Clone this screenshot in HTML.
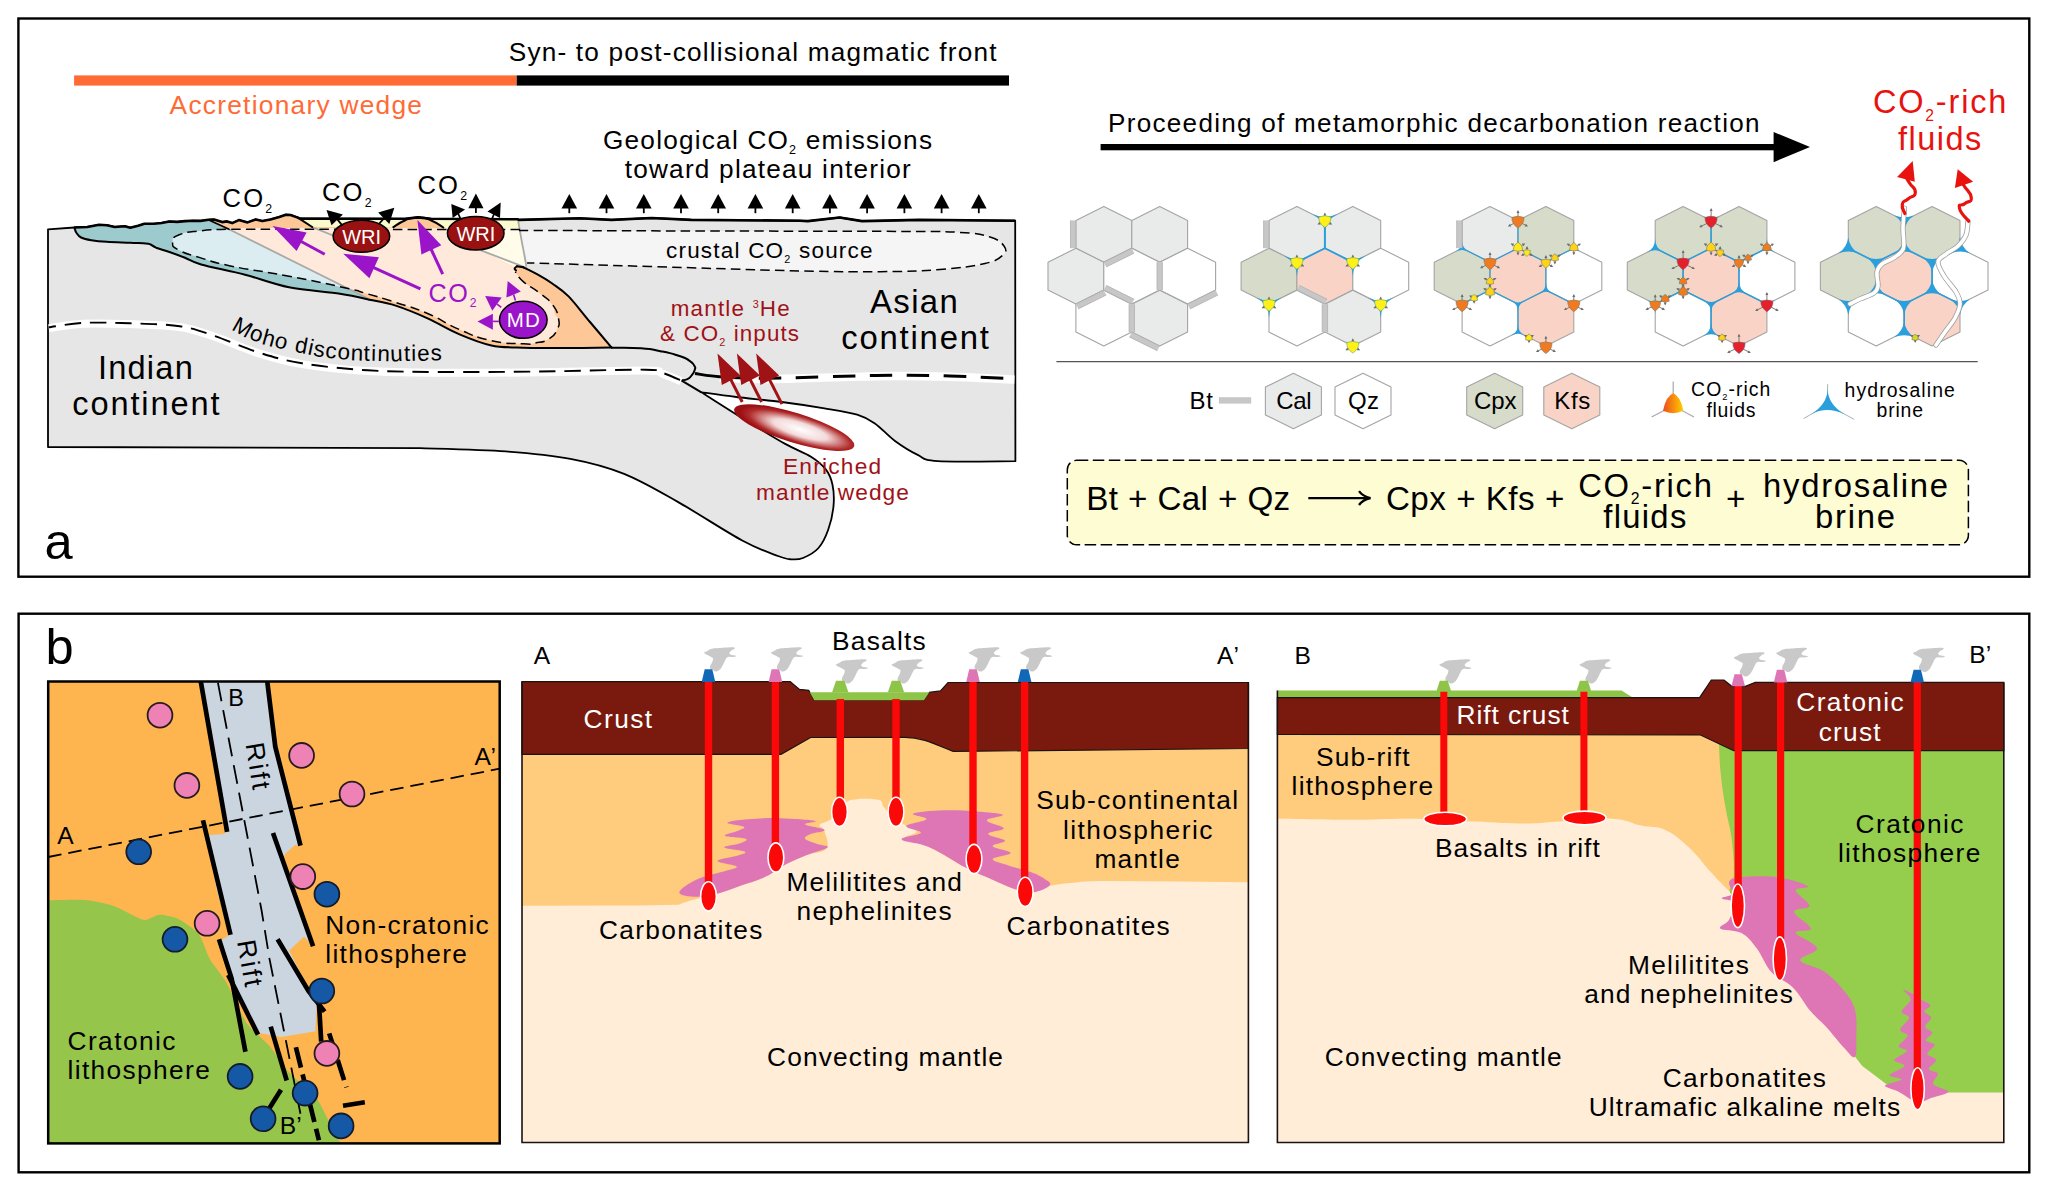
<!DOCTYPE html>
<html lang="en"><head><meta charset="utf-8"><title>Figure</title>
<style>
html,body{margin:0;padding:0;background:#fff;}
svg{display:block;}
text{font-family:"Liberation Sans",sans-serif;}
</style></head><body>
<svg width="2048" height="1191" viewBox="0 0 2048 1191">
<defs>
<radialGradient id="gw" cx="0.55" cy="0.5" r="0.5"><stop offset="0" stop-color="#fff"/><stop offset="0.45" stop-color="#f3dada"/><stop offset="0.85" stop-color="#b02a2a"/><stop offset="1" stop-color="#9c1014"/></radialGradient>
<linearGradient id="gf" x1="0" y1="0" x2="1" y2="0"><stop offset="0" stop-color="#ee4a1c"/><stop offset="1" stop-color="#ffcf00"/></linearGradient>
</defs>
<rect x="0" y="0" width="2048" height="1191" fill="#fff"/>
<g id="panelA">
<rect x="18.4" y="18.5" width="2010.9" height="558.2" fill="#fff" stroke="#000" stroke-width="2.4"/>
<rect x="74.1" y="75.4" width="442.6" height="10.2" fill="#ff6a35"/>
<rect x="516.7" y="75.4" width="492.3" height="10.2" fill="#000"/>
<text x="508.8" y="60.5" font-size="26.2" fill="#000" textLength="487.7" lengthAdjust="spacing">Syn- to post-collisional magmatic front</text>
<text x="169.6" y="114.3" font-size="26.3" fill="#ff6a35" textLength="252.4" lengthAdjust="spacing">Accretionary wedge</text>
<text x="603" y="148.6" font-size="26.2" fill="#000" textLength="329" lengthAdjust="spacing">Geological CO<tspan font-size="12.6" dy="5.8">2</tspan><tspan dy="-5.8"> emissions</tspan></text>
<text x="624.7" y="177.8" font-size="26.2" fill="#000" textLength="286" lengthAdjust="spacing">toward plateau interior</text>
<path d="M48 229.3 L74.4 227.5 L87.3 227 L99.1 224.8 L106.9 225.2 L114.7 227 L124.8 226.2 L130.3 227.7 L138.1 225.8 L144.4 223.8 L153.8 223.8 L161.6 223 L169.4 221.5 L177.2 221.9 L185 221.1 L192.8 220.7 L200.6 220.9 L208.4 219.8 L214 219.5 L222.1 222.1 L227 221.4 L232.2 223.1 L238.9 220.1 L247.6 222.4 L255.7 219.4 L262.4 221.1 L270.5 219.4 L279.2 217 L285.9 214.7 L290.6 215 L297.8 217.6 L300.3 218.6 L405 218.8 L418 217.4 L431 218.8 L517.9 219.3 L519 219.9 L579.7 218.3 L611.6 219.9 L651.5 218 L691.4 219.9 L800 220.7 L807.8 221.1 L839.7 217.5 L862 221.1 L919.5 219.9 L1015.2 220.7 L1015.4 461.2 C1002.5 461.2 954.1 462.2 937.8 461.2 C921.5 460.1 924.8 458.3 917.7 454.9 C910.6 451.5 902.1 446.2 895 441 C887.9 435.8 881.2 427.8 874.9 423.4 C868.6 419.0 865.6 417.1 857.2 414.6 C848.8 412.1 837.1 410.4 824.5 408.3 C811.9 406.2 796.4 403.9 781.7 402 C767.0 400.1 749.7 398.6 736.3 397 C722.9 395.4 707.2 393.1 701.4 392.3 C708.2 396.6 728.2 409.5 742.2 418.1 C756.2 426.7 773.7 437.5 785.2 443.9 C796.7 450.3 804.2 452.4 811 456.7 C817.8 461.0 822.4 464.9 826 469.6 C829.6 474.3 831.2 478.6 832.5 484.7 C833.8 490.8 834.2 498.7 833.5 506.2 C832.8 513.7 830.7 522.8 828.2 529.8 C825.7 536.8 822.7 543.3 818.5 548 C814.3 552.7 807.6 556.1 803 558 C798.4 559.9 795.2 559.6 791 559.3 C786.8 559.0 786.1 559.1 778 556 C769.9 552.9 758.9 549.5 742.2 540.5 C725.5 531.5 697.5 513.0 677.8 501.9 C658.1 490.8 642.0 481.1 624.1 473.9 C606.2 466.7 590.1 462.6 570.4 458.9 C550.7 455.1 531.0 453.2 505.9 451.4 C480.8 449.6 434.3 448.7 420 448.2 L48 447 Z" fill="#e6e6e6" stroke="#000" stroke-width="1.8" stroke-linejoin="round"/>
<path d="M519 230.4 C555.2 230.5 623.8 230.8 700 231 C776.2 231.2 848.0 231.1 900 231.4 C952.0 231.7 942.0 231.3 960 232.4 C978.0 233.5 981.2 234.3 990 237 C998.8 239.7 1001.4 242.4 1004 246 C1006.6 249.6 1006.8 251.5 1003 255 C999.2 258.5 997.6 260.6 985 263.5 C972.4 266.4 961.0 267.9 940 269.5 C919.0 271.1 908.0 271.4 880 271.7 C852.0 272.0 846.0 271.9 800 270.9 C754.0 269.9 704.6 268.1 650 266.5 C595.4 264.9 551.7 263.6 527.1 262.9 Z" fill="#f5f5f5"/>
<path d="M74.4 227.5 L87.3 227 L99.1 224.8 L106.9 225.2 L114.7 227 L124.8 226.2 L130.3 227.7 L138.1 225.8 L144.4 223.8 L153.8 223.8 L161.6 223 L169.4 221.5 L177.2 221.9 L185 221.1 L192.8 220.7 L200.6 220.9 L208.4 219.8 L371 300 C365.8 298.9 353.7 295.8 340 293.7 C326.3 291.6 304.8 290.4 289 287.2 C273.2 284.0 259.8 278.5 245.1 274.7 C230.4 270.9 211.1 267.3 201.1 264.5 C191.1 261.7 190.3 259.9 185 257.8 C179.7 255.7 174.2 253.7 169.4 252 C164.6 250.3 159.2 248.9 156.1 247.7 C153.0 246.4 152.3 245.2 150.6 244.5 C148.9 243.8 149.3 243.7 145.9 243.4 C142.5 243.1 136.8 243.1 130.3 242.8 C123.8 242.5 113.4 242.2 106.9 241.8 C100.4 241.4 95.6 240.9 91.3 240.2 C87.0 239.5 83.6 238.7 81.1 237.5 C78.6 236.3 77.5 234.5 76.4 232.8 C75.3 231.2 74.7 228.5 74.4 227.6 Z" fill="#9ccacd"/>
<path d="M229 229.3 L348 288.5 C332.3 285.2 320.4 282.2 289 276.2 C257.6 270.2 254.1 270.9 230.4 265.9 C206.7 260.9 213.7 261.8 200 257.6 C186.3 253.4 186.5 254.3 179.2 250.3 C171.9 246.3 172.6 246.6 172.6 242.5 C172.6 238.4 171.6 237.9 179.2 234.8 C186.8 231.7 188.2 232.3 201.1 230.8 C214.0 229.3 220.5 229.6 227.5 229.2 Z" fill="#dcedf2"/>
<path d="M208.4 219.8 L214 219.5 L222.1 222.1 L227 221.4 L232.2 223.1 L238.9 220.1 L247.6 222.4 L255.7 219.4 L262.4 221.1 L270.5 219.4 L279.2 217 L285.9 214.7 L290.6 215 L297.8 217.6 L300.3 218.6 L405 218.8 L418 217.4 L431 218.8 L517.9 219.3 C518.5 222.8 520.5 234.2 521.5 240 C522.5 245.8 523.4 249.6 524.2 254 C525.0 258.4 526.0 264.2 526.4 266.2 L523.3 267.3 C525.9 268.6 534.3 272.6 539.2 275.3 C544.1 278.0 547.7 280.2 552.6 283.7 C557.5 287.2 562.4 290.0 568.6 296.4 C574.8 302.8 582.8 313.5 590 322 C597.2 330.5 608.0 343.3 611.6 347.6 C603.0 347.7 574.7 348.0 560 348 C545.3 348.0 534.7 348.2 523.3 347.8 C511.9 347.4 502.0 347.6 491.4 345.4 C480.8 343.1 470.1 338.8 459.5 334.3 C448.9 329.8 438.2 323.1 427.6 318.3 C417.0 313.5 405.1 308.7 395.7 305.6 C386.3 302.6 375.1 300.9 371 300 Z" fill="#fdc797"/>
<path d="M300.3 219.3 L408.4 219.3 L392.6 227.6 L312.2 227 Z" fill="#fbfacd"/>
<path d="M430.8 219.3 L517.9 219.3 L519.4 228 L444 228 Z" fill="#fbfacd"/>
<path d="M229 229.3 L229 228 L478 228 L481 250.4 L515.3 267.3 L515.3 272 C516.6 273.6 519.3 278.1 523.3 281.6 C527.3 285.1 534.4 289.1 539.2 292.8 C544.0 296.5 548.8 299.8 552 304 C555.2 308.2 557.6 313.7 558.4 318 C559.2 322.3 558.6 326.5 557 330 C555.4 333.5 552.5 336.9 548.8 339.1 C545.1 341.3 539.2 342.2 535 343 C530.8 343.8 530.6 344.2 523.3 343.8 C516.0 343.4 502.0 343.1 491.4 340.7 C480.8 338.3 470.1 334.0 459.5 329.5 C448.9 325.0 438.2 318.0 427.6 313.5 C417.0 309.0 406.3 305.8 395.7 302.4 C385.1 298.9 371.8 295.1 363.8 292.8 C355.9 290.5 350.6 289.2 348 288.5 Z" fill="#fee9da"/>
<path d="M478 228 L519.4 228 C519.8 230.5 521.2 238.7 522 243 C522.8 247.3 523.5 250.1 524.2 254 C524.9 257.9 526.0 264.2 526.4 266.2 L515.3 267.3 L481 250.4 Z" fill="#fffdea"/>
<path d="M517 266.2 C515.1 266.3 514.8 267.5 514.6 268.4 C514.4 269.3 514.5 269.3 516 271.5 C517.5 273.7 519.4 278.1 523.3 281.6 C527.2 285.2 534.4 289.1 539.2 292.8 C544.0 296.5 548.8 299.8 552 304 C555.2 308.2 552.9 315.0 558.4 318 C563.9 321.0 583.3 325.6 585 322 C586.7 318.4 574.0 302.8 568.6 296.4 C563.2 290.0 557.5 287.2 552.6 283.7 C547.7 280.2 543.6 277.9 539.2 275.3 C534.8 272.7 529.7 269.5 526 268 C522.3 266.5 518.9 266.1 517 266.2 Z" fill="#fdc797"/>
<g stroke="#a9a9a9" stroke-width="1.8" fill="none">
<path d="M208.4 220.2 L229 229.3 L371 300" fill="none"/>
<path d="M311 226.6 L338 237.5" fill="none"/>
<path d="M481 250.4 L527 268" fill="none"/>
<path d="M517.9 219.4 C518.5 222.8 520.5 234.2 521.5 240 C522.5 245.8 523.4 249.6 524.2 254 C525.0 258.4 526.0 264.2 526.4 266.2" fill="none"/>
</g>
<g stroke="#000" stroke-width="1.5" fill="none" stroke-dasharray="9.5 5.2">
<path d="M520 229.6 L227.5 229.2 C220.5 229.6 214.0 229.3 201.1 230.8 C188.2 232.3 186.8 231.7 179.2 234.8 C171.6 237.9 172.6 238.4 172.6 242.5 C172.6 246.6 171.9 246.3 179.2 250.3 C186.5 254.3 186.3 253.4 200 257.6 C213.7 261.8 206.7 260.9 230.4 265.9 C254.1 270.9 257.6 270.2 289 276.2 C320.4 282.2 328.1 284.1 348 288.5 C367.9 292.9 351.1 289.1 363.8 292.8 C376.5 296.5 378.7 296.9 395.7 302.4 C412.7 307.9 410.6 306.3 427.6 313.5 C444.6 320.7 442.5 322.2 459.5 329.5 C476.5 336.8 474.4 336.9 491.4 340.7 C508.4 344.5 511.7 343.2 523.3 343.8 C534.9 344.4 528.2 344.3 535 343 C541.8 341.7 542.9 342.6 548.8 339.1 C554.7 335.6 554.4 335.6 557 330 C559.6 324.4 559.7 324.9 558.4 318 C557.1 311.1 557.1 310.7 552 304 C546.9 297.3 546.9 298.8 539.2 292.8 C531.5 286.8 529.7 287.1 523.3 281.6 C516.9 276.1 517.4 274.6 515.3 272" fill="none"/>
<path d="M519 230.4 C555.2 230.5 623.8 230.8 700 231 C776.2 231.2 848.0 231.1 900 231.4 C952.0 231.7 942.0 231.3 960 232.4 C978.0 233.5 981.2 234.3 990 237 C998.8 239.7 1001.4 242.4 1004 246 C1006.6 249.6 1006.8 251.5 1003 255 C999.2 258.5 997.6 260.6 985 263.5 C972.4 266.4 961.0 267.9 940 269.5 C919.0 271.1 908.0 271.4 880 271.7 C852.0 272.0 846.0 271.9 800 270.9 C754.0 269.9 704.6 268.1 650 266.5 C595.4 264.9 551.7 263.6 527.1 262.9" fill="none"/>
</g>
<g stroke="#000" stroke-width="2" fill="none" stroke-linejoin="round" stroke-linecap="round">
<path d="M371 300 C365.8 298.9 353.7 295.8 340 293.7 C326.3 291.6 304.8 290.4 289 287.2 C273.2 284.0 259.8 278.5 245.1 274.7 C230.4 270.9 211.1 267.3 201.1 264.5 C191.1 261.7 190.3 259.9 185 257.8 C179.7 255.7 174.2 253.7 169.4 252 C164.6 250.3 159.2 248.9 156.1 247.7 C153.0 246.4 152.3 245.2 150.6 244.5 C148.9 243.8 149.3 243.7 145.9 243.4 C142.5 243.1 136.8 243.1 130.3 242.8 C123.8 242.5 113.4 242.2 106.9 241.8 C100.4 241.4 95.6 240.9 91.3 240.2 C87.0 239.5 83.6 238.7 81.1 237.5 C78.6 236.3 77.5 234.5 76.4 232.8 C75.3 231.2 74.7 228.5 74.4 227.6" fill="none"/>
<path d="M371 300 C375.1 300.9 386.3 302.6 395.7 305.6 C405.1 308.7 417.0 313.5 427.6 318.3 C438.2 323.1 448.9 329.8 459.5 334.3 C470.1 338.8 480.8 343.1 491.4 345.4 C502.0 347.6 511.9 347.4 523.3 347.8 C534.7 348.2 545.3 348.0 560 348 C574.7 348.0 603.0 347.7 611.6 347.6" fill="none"/>
<path d="M517 266.2 C516.6 266.6 514.8 267.7 514.6 268.4 C514.4 269.1 515.8 270.1 516 270.5" fill="none"/>
<path d="M523.3 267.3 C525.9 268.6 534.3 272.6 539.2 275.3 C544.1 278.0 547.7 280.2 552.6 283.7 C557.5 287.2 562.4 290.0 568.6 296.4 C574.8 302.8 582.8 313.5 590 322 C597.2 330.5 608.0 343.3 611.6 347.6" fill="none"/>
<path d="M517 266.2 L523.3 267.3" fill="none"/>
<path d="M297.8 217.6 L312.2 227" fill="none"/>
<path d="M208.4 219.8 L229 229.3" fill="none" stroke-width="1.6"/>
</g>
<path d="M392.6 227.6 C396.0 225.6 398.5 222.9 405.3 220.2 C412.1 217.5 411.2 217.4 418 217.4 C424.8 217.4 423.9 217.4 430.8 220.2 C437.7 223.0 440.5 225.9 444 228 Z" fill="#fdc797"/>
<path d="M392.6 227.6 C396.0 225.6 398.5 222.9 405.3 220.2 C412.1 217.5 411.2 217.4 418 217.4 C424.8 217.4 423.9 217.4 430.8 220.2 C437.7 223.0 440.5 225.9 444 228" fill="none" stroke="#000" stroke-width="2"/>
<path d="M74.4 227.5 L87.3 227 L99.1 224.8 L106.9 225.2 L114.7 227 L124.8 226.2 L130.3 227.7 L138.1 225.8 L144.4 223.8 L153.8 223.8 L161.6 223 L169.4 221.5 L177.2 221.9 L185 221.1 L192.8 220.7 L200.6 220.9 L208.4 219.8 L214 219.5 L222.1 222.1 L227 221.4 L232.2 223.1 L238.9 220.1 L247.6 222.4 L255.7 219.4 L262.4 221.1 L270.5 219.4 L279.2 217 L285.9 214.7 L290.6 215 L297.8 217.6 L300.3 218.6 L405 218.8 L418 217.4 L431 218.8 L517.9 219.3 L519 219.9 L579.7 218.3 L611.6 219.9 L651.5 218 L691.4 219.9 L800 220.7 L807.8 221.1 L839.7 217.5 L862 221.1 L919.5 219.9 L1015.2 220.7" fill="none" stroke="#000" stroke-width="2.6" stroke-linejoin="round"/>
<path d="M611.6 347.8 C620.4 347.9 626.0 347.2 641 348.3 C656.0 349.4 650.2 349.1 661.5 351.4 C672.8 353.6 670.4 353.1 678.6 355.8 C686.8 358.5 684.2 357.3 688.9 360.3 C693.6 363.3 692.6 362.9 694.3 365.8 C696.0 368.7 695.5 367.0 694.7 369.9 C693.9 372.8 693.8 372.5 691.6 375.3 C689.4 378.1 690.6 377.6 687.5 379.1 C684.4 380.6 683.2 379.9 681.3 380.3 L701.4 392.3" fill="none" stroke="#000" stroke-width="2" stroke-linejoin="round"/>
<path d="M48.7 327.3 C54.5 326.6 70.2 323.6 83.7 322.9 C97.2 322.2 114.0 322.8 130 323.3 C146.0 323.9 165.6 324.1 179.7 326.2 C193.8 328.3 201.6 331.6 214.7 336 C227.8 340.4 243.8 347.8 258.3 352.4 C272.9 356.9 283.8 360.3 302 363.3 C320.2 366.3 344.5 368.9 367.5 370.3 C390.5 371.8 411.2 371.8 440 372 C468.8 372.2 505.7 371.9 540 371.5 C574.3 371.1 625.1 369.4 645.6 369.7 C666.1 369.9 656.9 371.2 662.8 373 C668.7 374.8 678.0 379.2 681 380.5" fill="none" stroke="#fff" stroke-width="8.0" transform="translate(0,0.8)"/>
<path d="M48.7 327.3 C54.5 326.6 70.2 323.6 83.7 322.9 C97.2 322.2 114.0 322.8 130 323.3 C146.0 323.9 165.6 324.1 179.7 326.2 C193.8 328.3 201.6 331.6 214.7 336 C227.8 340.4 243.8 347.8 258.3 352.4 C272.9 356.9 283.8 360.3 302 363.3 C320.2 366.3 344.5 368.9 367.5 370.3 C390.5 371.8 411.2 371.8 440 372 C468.8 372.2 505.7 371.9 540 371.5 C574.3 371.1 625.1 369.4 645.6 369.7 C666.1 369.9 656.9 371.2 662.8 373 C668.7 374.8 678.0 379.2 681 380.5" fill="none" stroke="#000" stroke-width="1.9" stroke-dasharray="16.4 8.9" stroke-dashoffset="9"/>
<path d="M719.6 376.8 C724.7 377.0 738.9 377.8 750 378 C761.1 378.2 767.8 378.3 786.5 377.9 C805.2 377.5 844.2 376.2 862.3 375.8 C880.4 375.4 880.3 375.2 894.9 375.2 C909.5 375.2 930.1 375.4 950 376 C969.9 376.6 1003.7 378.3 1014.4 378.8" fill="none" stroke="#fff" stroke-width="8.4" transform="translate(0,0.8)"/>
<path d="M695 373.6 C699.1 374.1 710.4 376.1 719.6 376.8 C728.8 377.5 738.9 377.8 750 378 C761.1 378.2 767.8 378.3 786.5 377.9 C805.2 377.5 844.2 376.2 862.3 375.8 C880.4 375.4 880.3 375.2 894.9 375.2 C909.5 375.2 930.1 375.4 950 376 C969.9 376.6 1003.7 378.3 1014.4 378.8" fill="none" stroke="#000" stroke-width="3.0" stroke-dasharray="52 0 0 12 22.6 14.4 22.6 14.4 22.6 14.4 22.6 14.4 22.6 14.4 22.6 14.4 22.6 14.4 22.6 14.4 22.6 14.4"/>
<path id="mohoPath" d="M230.8 329.4 C238.8 333.3 238.1 334.6 254.7 341 C271.3 347.4 266.1 344.7 280.7 348.6 C295.3 352.5 279.8 349.3 298.5 352.7 C317.2 356.1 310.4 356.1 336.8 358.8 C363.2 361.5 352.7 360.2 377.8 360.9 C402.9 361.6 387.9 361.0 412 360.8 C436.1 360.6 437.3 360.4 450 360.2" fill="none"/>
<text font-size="22.4" fill="#000"><textPath href="#mohoPath" textLength="216" lengthAdjust="spacing">Moho discontinuties</textPath></text>
<ellipse cx="361.4" cy="236.3" rx="28.3" ry="16" fill="#9a1111" stroke="#000" stroke-width="1.5"/>
<ellipse cx="475.7" cy="233.2" rx="28.3" ry="16.7" fill="#9a1111" stroke="#000" stroke-width="1.5"/>
<text x="361.6" y="243.5" font-size="20" fill="#fff" text-anchor="middle" textLength="38.9" lengthAdjust="spacing">WRI</text>
<text x="475.9" y="240.6" font-size="20" fill="#fff" text-anchor="middle" textLength="38.9" lengthAdjust="spacing">WRI</text>
<ellipse cx="523.3" cy="319.8" rx="23.8" ry="18.5" fill="#9a14c9" stroke="#000" stroke-width="1.5"/>
<text x="523.3" y="327.3" font-size="20.5" fill="#fff" text-anchor="middle" textLength="33" lengthAdjust="spacing">MD</text>
<line x1="324.7" y1="254.3" x2="300.7" y2="241.3" stroke="#9a14c9" stroke-width="3"/>
<polygon points="272.6,226 306.6,232.5 296.6,251.0" fill="#9a14c9"/>
<line x1="420.4" y1="288.8" x2="373.2" y2="267.4" stroke="#9a14c9" stroke-width="3"/>
<polygon points="343.2,253.7 378.9,257.3 369.4,278.2" fill="#9a14c9"/>
<line x1="442.7" y1="274.1" x2="431.0" y2="249.0" stroke="#9a14c9" stroke-width="3"/>
<polygon points="417.4,220 441.3,245.2 421.4,254.6" fill="#9a14c9"/>
<line x1="513.6" y1="294.5" x2="515.4" y2="300.6" stroke="#9a14c9" stroke-width="1.6"/>
<polygon points="507.7,281.1 520.8,291.5 506.4,297.6" fill="#9a14c9"/>
<line x1="497" y1="304.1" x2="501.3" y2="307.4" stroke="#9a14c9" stroke-width="1.6"/>
<polygon points="485.2,295.9 501.7,297.6 492.3,310.7" fill="#9a14c9"/>
<line x1="492.9" y1="321.4" x2="499" y2="321.4" stroke="#9a14c9" stroke-width="1.6"/>
<polygon points="477.5,321.4 492.9,313.7 492.9,329.8" fill="#9a14c9"/>
<text x="428.4" y="301.6" font-size="25.2" fill="#9a14c9" textLength="48" lengthAdjust="spacing">CO<tspan font-size="12.1" dy="5.5">2</tspan></text>
<line x1="337.6" y1="219.6" x2="342.5" y2="225.8" stroke="#000" stroke-width="1.8"/>
<polygon points="326.5,209.9 342.9,214.6 331.5,225.3" fill="#000"/>
<line x1="383.6" y1="218.6" x2="379" y2="224" stroke="#000" stroke-width="1.8"/>
<polygon points="394.3,207.8 378.2,212.6 389.3,224" fill="#000"/>
<line x1="457.5" y1="212" x2="461" y2="220" stroke="#000" stroke-width="1.8"/>
<polygon points="451.3,204 465.1,209.5 452.6,218.1" fill="#000"/>
<line x1="494.5" y1="213" x2="491.5" y2="220" stroke="#000" stroke-width="1.8"/>
<polygon points="500.7,202.6 487.5,211.5 500,218.1" fill="#000"/>
<line x1="475.9" y1="213.0" x2="475.9" y2="207.3" stroke="#000" stroke-width="1.8"/>
<polygon points="475.9,193.6 483.5,208.3 468.3,208.3" fill="#000"/>
<line x1="569.3" y1="213.2" x2="569.3" y2="207.5" stroke="#000" stroke-width="1.8"/>
<polygon points="569.3,193.9 577.1,208.5 561.5,208.5" fill="#000"/>
<line x1="606.5" y1="213.2" x2="606.5" y2="207.5" stroke="#000" stroke-width="1.8"/>
<polygon points="606.5,193.9 614.3,208.5 598.7,208.5" fill="#000"/>
<line x1="643.8" y1="213.2" x2="643.8" y2="207.5" stroke="#000" stroke-width="1.8"/>
<polygon points="643.8,193.9 651.6,208.5 636.0,208.5" fill="#000"/>
<line x1="681.0" y1="213.2" x2="681.0" y2="207.5" stroke="#000" stroke-width="1.8"/>
<polygon points="681.0,193.9 688.8,208.5 673.2,208.5" fill="#000"/>
<line x1="718.2" y1="213.2" x2="718.2" y2="207.5" stroke="#000" stroke-width="1.8"/>
<polygon points="718.2,193.9 726.0,208.5 710.4,208.5" fill="#000"/>
<line x1="755.4" y1="213.2" x2="755.4" y2="207.5" stroke="#000" stroke-width="1.8"/>
<polygon points="755.4,193.9 763.2,208.5 747.6,208.5" fill="#000"/>
<line x1="792.7" y1="213.2" x2="792.7" y2="207.5" stroke="#000" stroke-width="1.8"/>
<polygon points="792.7,193.9 800.5,208.5 784.9,208.5" fill="#000"/>
<line x1="829.9" y1="213.2" x2="829.9" y2="207.5" stroke="#000" stroke-width="1.8"/>
<polygon points="829.9,193.9 837.7,208.5 822.1,208.5" fill="#000"/>
<line x1="867.1" y1="213.2" x2="867.1" y2="207.5" stroke="#000" stroke-width="1.8"/>
<polygon points="867.1,193.9 874.9,208.5 859.3,208.5" fill="#000"/>
<line x1="904.4" y1="213.2" x2="904.4" y2="207.5" stroke="#000" stroke-width="1.8"/>
<polygon points="904.4,193.9 912.2,208.5 896.6,208.5" fill="#000"/>
<line x1="941.6" y1="213.2" x2="941.6" y2="207.5" stroke="#000" stroke-width="1.8"/>
<polygon points="941.6,193.9 949.4,208.5 933.8,208.5" fill="#000"/>
<line x1="978.8" y1="213.2" x2="978.8" y2="207.5" stroke="#000" stroke-width="1.8"/>
<polygon points="978.8,193.9 986.6,208.5 971.0,208.5" fill="#000"/>
<text x="222.6" y="207.3" font-size="25.6" fill="#000" textLength="49.5" lengthAdjust="spacing">CO<tspan font-size="12.3" dy="5.6">2</tspan></text>
<text x="322" y="201.3" font-size="25.6" fill="#000" textLength="49.5" lengthAdjust="spacing">CO<tspan font-size="12.3" dy="5.6">2</tspan></text>
<text x="417.5" y="194.3" font-size="25.6" fill="#000" textLength="49.5" lengthAdjust="spacing">CO<tspan font-size="12.3" dy="5.6">2</tspan></text>
<text x="666" y="258" font-size="22.5" fill="#000" textLength="206.5" lengthAdjust="spacing">crustal CO<tspan font-size="10.8" dy="5.0">2</tspan><tspan dy="-5.0"> source</tspan></text>
<text x="870" y="313.2" font-size="32.9" fill="#000" textLength="87.8" lengthAdjust="spacing">Asian</text>
<text x="841.3" y="349" font-size="32.9" fill="#000" textLength="147.6" lengthAdjust="spacing">continent</text>
<text x="97.9" y="378.6" font-size="32.6" fill="#000" textLength="94.9" lengthAdjust="spacing">Indian</text>
<text x="72.3" y="415.3" font-size="32.6" fill="#000" textLength="147.2" lengthAdjust="spacing">continent</text>
<text x="44.6" y="559.1" font-size="50.6" fill="#000">a</text>
<text x="670.7" y="315.6" font-size="22.4" fill="#9f1216" textLength="119" lengthAdjust="spacing">mantle <tspan font-size="10.8" dy="-8.1">3</tspan><tspan dy="8.1">He</tspan></text>
<text x="660" y="341.2" font-size="22.4" fill="#9f1216" textLength="139" lengthAdjust="spacing">&amp; CO<tspan font-size="10.8" dy="4.9">2</tspan><tspan dy="-4.9"> inputs</tspan></text>
<ellipse cx="794.2" cy="427.6" rx="62.8" ry="14.8" fill="url(#gw)" transform="rotate(17.3 794.2 427.6)"/>
<line x1="742.2" y1="402.0" x2="730.7" y2="379.4" stroke="#9f1216" stroke-width="3"/>
<polygon points="717.5,353.6 740.5,375.5 721.8,385.1" fill="#9f1216"/>
<line x1="761.6" y1="402.0" x2="750.1" y2="379.4" stroke="#9f1216" stroke-width="3"/>
<polygon points="736.9,353.6 759.9,375.5 741.2,385.1" fill="#9f1216"/>
<line x1="782.0" y1="404.1" x2="769.4" y2="379.4" stroke="#9f1216" stroke-width="3"/>
<polygon points="756.2,353.6 779.2,375.5 760.5,385.1" fill="#9f1216"/>
<text x="782.9" y="474.3" font-size="22.7" fill="#9f1216" textLength="98.3" lengthAdjust="spacing">Enriched</text>
<text x="756" y="499.5" font-size="22.7" fill="#9f1216" textLength="152.9" lengthAdjust="spacing">mantle wedge</text>
</g>
<g id="panelAright">
<text x="1108.1" y="131.7" font-size="26.1" fill="#000" textLength="651.4" lengthAdjust="spacing">Proceeding of metamorphic decarbonation reaction</text>
<rect x="1100.6" y="144" width="675" height="6.3" fill="#000"/>
<polygon points="1773.6,132 1810,147.1 1773.6,162.2" fill="#000"/>
<text x="1872.9" y="113.4" font-size="32.5" fill="#e8120f" textLength="133.5" lengthAdjust="spacing">CO<tspan font-size="15.6" dy="7.2">2</tspan><tspan dy="-7.2">-rich</tspan></text>
<text x="1898" y="149.6" font-size="32.5" fill="#e8120f" textLength="83.2" lengthAdjust="spacing">fluids</text>
<polygon points="1103.8,206.4 1131.8,220.4 1131.8,248.2 1103.8,262.2 1075.9,248.2 1075.9,220.4" fill="#e9ebeb" stroke="#a4a4a4" stroke-width="1.1" stroke-linejoin="round"/>
<polygon points="1159.7,206.4 1187.6,220.4 1187.6,248.2 1159.7,262.2 1131.8,248.2 1131.8,220.4" fill="#e9ebeb" stroke="#a4a4a4" stroke-width="1.1" stroke-linejoin="round"/>
<polygon points="1075.9,248.3 1103.8,262.2 1103.8,290.1 1075.9,304.1 1048.0,290.1 1048.0,262.2" fill="#e9ebeb" stroke="#a4a4a4" stroke-width="1.1" stroke-linejoin="round"/>
<polygon points="1131.8,248.3 1159.7,262.2 1159.7,290.1 1131.8,304.1 1103.8,290.1 1103.8,262.2" fill="#ffffff" stroke="#a4a4a4" stroke-width="1.1" stroke-linejoin="round"/>
<polygon points="1187.6,248.3 1215.6,262.2 1215.6,290.1 1187.6,304.1 1159.7,290.1 1159.7,262.2" fill="#ffffff" stroke="#a4a4a4" stroke-width="1.1" stroke-linejoin="round"/>
<polygon points="1103.8,290.2 1131.8,304.2 1131.8,332.1 1103.8,346.0 1075.9,332.1 1075.9,304.2" fill="#ffffff" stroke="#a4a4a4" stroke-width="1.1" stroke-linejoin="round"/>
<polygon points="1159.7,290.2 1187.6,304.2 1187.6,332.1 1159.7,346.0 1131.8,332.1 1131.8,304.2" fill="#e9ebeb" stroke="#a4a4a4" stroke-width="1.1" stroke-linejoin="round"/>
<polygon points="1296.9,206.4 1324.9,220.4 1324.9,248.2 1296.9,262.2 1269.0,248.2 1269.0,220.4" fill="#e9ebeb" stroke="#a4a4a4" stroke-width="1.1" stroke-linejoin="round"/>
<polygon points="1352.8,206.4 1380.7,220.4 1380.7,248.2 1352.8,262.2 1324.9,248.2 1324.9,220.4" fill="#e9ebeb" stroke="#a4a4a4" stroke-width="1.1" stroke-linejoin="round"/>
<polygon points="1269.0,248.3 1296.9,262.2 1296.9,290.1 1269.0,304.1 1241.1,290.1 1241.1,262.2" fill="#d6dcc9" stroke="#a4a4a4" stroke-width="1.1" stroke-linejoin="round"/>
<polygon points="1324.9,248.3 1352.8,262.2 1352.8,290.1 1324.9,304.1 1296.9,290.1 1296.9,262.2" fill="#f9d4c6" stroke="#a4a4a4" stroke-width="1.1" stroke-linejoin="round"/>
<polygon points="1380.7,248.3 1408.7,262.2 1408.7,290.1 1380.7,304.1 1352.8,290.1 1352.8,262.2" fill="#ffffff" stroke="#a4a4a4" stroke-width="1.1" stroke-linejoin="round"/>
<polygon points="1296.9,290.2 1324.9,304.2 1324.9,332.1 1296.9,346.0 1269.0,332.1 1269.0,304.2" fill="#ffffff" stroke="#a4a4a4" stroke-width="1.1" stroke-linejoin="round"/>
<polygon points="1352.8,290.2 1380.7,304.2 1380.7,332.1 1352.8,346.0 1324.9,332.1 1324.9,304.2" fill="#e9ebeb" stroke="#a4a4a4" stroke-width="1.1" stroke-linejoin="round"/>
<polygon points="1490.0,206.4 1518.0,220.4 1518.0,248.2 1490.0,262.2 1462.1,248.2 1462.1,220.4" fill="#e9ebeb" stroke="#a4a4a4" stroke-width="1.1" stroke-linejoin="round"/>
<polygon points="1545.9,206.4 1573.8,220.4 1573.8,248.2 1545.9,262.2 1518.0,248.2 1518.0,220.4" fill="#d6dcc9" stroke="#a4a4a4" stroke-width="1.1" stroke-linejoin="round"/>
<polygon points="1462.1,248.3 1490.0,262.2 1490.0,290.1 1462.1,304.1 1434.2,290.1 1434.2,262.2" fill="#d6dcc9" stroke="#a4a4a4" stroke-width="1.1" stroke-linejoin="round"/>
<polygon points="1518.0,248.3 1545.9,262.2 1545.9,290.1 1518.0,304.1 1490.0,290.1 1490.0,262.2" fill="#f9d4c6" stroke="#a4a4a4" stroke-width="1.1" stroke-linejoin="round"/>
<polygon points="1573.8,248.3 1601.8,262.2 1601.8,290.1 1573.8,304.1 1545.9,290.1 1545.9,262.2" fill="#ffffff" stroke="#a4a4a4" stroke-width="1.1" stroke-linejoin="round"/>
<polygon points="1490.0,290.2 1518.0,304.2 1518.0,332.1 1490.0,346.0 1462.1,332.1 1462.1,304.2" fill="#ffffff" stroke="#a4a4a4" stroke-width="1.1" stroke-linejoin="round"/>
<polygon points="1545.9,290.2 1573.8,304.2 1573.8,332.1 1545.9,346.0 1518.0,332.1 1518.0,304.2" fill="#f9d4c6" stroke="#a4a4a4" stroke-width="1.1" stroke-linejoin="round"/>
<polygon points="1683.1,206.4 1711.1,220.4 1711.1,248.2 1683.1,262.2 1655.2,248.2 1655.2,220.4" fill="#d6dcc9" stroke="#a4a4a4" stroke-width="1.1" stroke-linejoin="round"/>
<polygon points="1739.0,206.4 1766.9,220.4 1766.9,248.2 1739.0,262.2 1711.1,248.2 1711.1,220.4" fill="#d6dcc9" stroke="#a4a4a4" stroke-width="1.1" stroke-linejoin="round"/>
<polygon points="1655.2,248.3 1683.1,262.2 1683.1,290.1 1655.2,304.1 1627.3,290.1 1627.3,262.2" fill="#d6dcc9" stroke="#a4a4a4" stroke-width="1.1" stroke-linejoin="round"/>
<polygon points="1711.1,248.3 1739.0,262.2 1739.0,290.1 1711.1,304.1 1683.1,290.1 1683.1,262.2" fill="#f9d4c6" stroke="#a4a4a4" stroke-width="1.1" stroke-linejoin="round"/>
<polygon points="1766.9,248.3 1794.9,262.2 1794.9,290.1 1766.9,304.1 1739.0,290.1 1739.0,262.2" fill="#ffffff" stroke="#a4a4a4" stroke-width="1.1" stroke-linejoin="round"/>
<polygon points="1683.1,290.2 1711.1,304.2 1711.1,332.1 1683.1,346.0 1655.2,332.1 1655.2,304.2" fill="#ffffff" stroke="#a4a4a4" stroke-width="1.1" stroke-linejoin="round"/>
<polygon points="1739.0,290.2 1766.9,304.2 1766.9,332.1 1739.0,346.0 1711.1,332.1 1711.1,304.2" fill="#f9d4c6" stroke="#a4a4a4" stroke-width="1.1" stroke-linejoin="round"/>
<polygon points="1876.2,206.4 1904.2,220.4 1904.2,248.2 1876.2,262.2 1848.3,248.2 1848.3,220.4" fill="#d6dcc9" stroke="#a4a4a4" stroke-width="1.1" stroke-linejoin="round"/>
<polygon points="1932.1,206.4 1960.0,220.4 1960.0,248.2 1932.1,262.2 1904.2,248.2 1904.2,220.4" fill="#d6dcc9" stroke="#a4a4a4" stroke-width="1.1" stroke-linejoin="round"/>
<polygon points="1848.3,248.3 1876.2,262.2 1876.2,290.1 1848.3,304.1 1820.4,290.1 1820.4,262.2" fill="#d6dcc9" stroke="#a4a4a4" stroke-width="1.1" stroke-linejoin="round"/>
<polygon points="1904.2,248.3 1932.1,262.2 1932.1,290.1 1904.2,304.1 1876.2,290.1 1876.2,262.2" fill="#f9d4c6" stroke="#a4a4a4" stroke-width="1.1" stroke-linejoin="round"/>
<polygon points="1960.0,248.3 1988.0,262.2 1988.0,290.1 1960.0,304.1 1932.1,290.1 1932.1,262.2" fill="#ffffff" stroke="#a4a4a4" stroke-width="1.1" stroke-linejoin="round"/>
<polygon points="1876.2,290.2 1904.2,304.2 1904.2,332.1 1876.2,346.0 1848.3,332.1 1848.3,304.2" fill="#ffffff" stroke="#a4a4a4" stroke-width="1.1" stroke-linejoin="round"/>
<polygon points="1932.1,290.2 1960.0,304.2 1960.0,332.1 1932.1,346.0 1904.2,332.1 1904.2,304.2" fill="#f9d4c6" stroke="#a4a4a4" stroke-width="1.1" stroke-linejoin="round"/>
<line x1="1073.2" y1="220.4" x2="1073.2" y2="248.2" stroke="#c7c7c7" stroke-width="5.4"/>
<line x1="1075.9" y1="220.4" x2="1075.9" y2="248.2" stroke="#b0b0b0" stroke-width="0.8"/>
<line x1="1070.5" y1="220.4" x2="1070.5" y2="248.2" stroke="#b0b0b0" stroke-width="0.8"/>
<line x1="1105.0" y1="264.6" x2="1133.0" y2="250.7" stroke="#c7c7c7" stroke-width="5.4"/>
<line x1="1103.8" y1="262.2" x2="1131.8" y2="248.2" stroke="#b0b0b0" stroke-width="0.8"/>
<line x1="1106.2" y1="267.0" x2="1134.2" y2="253.1" stroke="#b0b0b0" stroke-width="0.8"/>
<line x1="1159.7" y1="262.2" x2="1159.7" y2="290.1" stroke="#c7c7c7" stroke-width="5.4"/>
<line x1="1162.4" y1="262.2" x2="1162.4" y2="290.1" stroke="#b0b0b0" stroke-width="0.8"/>
<line x1="1157.0" y1="262.2" x2="1157.0" y2="290.1" stroke="#b0b0b0" stroke-width="0.8"/>
<line x1="1077.1" y1="306.5" x2="1105.0" y2="292.6" stroke="#c7c7c7" stroke-width="5.4"/>
<line x1="1075.9" y1="304.1" x2="1103.8" y2="290.1" stroke="#b0b0b0" stroke-width="0.8"/>
<line x1="1078.3" y1="308.9" x2="1106.2" y2="295.0" stroke="#b0b0b0" stroke-width="0.8"/>
<line x1="1105.0" y1="287.7" x2="1133.0" y2="301.7" stroke="#c7c7c7" stroke-width="5.4"/>
<line x1="1106.2" y1="285.3" x2="1134.2" y2="299.3" stroke="#b0b0b0" stroke-width="0.8"/>
<line x1="1103.8" y1="290.1" x2="1131.8" y2="304.1" stroke="#b0b0b0" stroke-width="0.8"/>
<line x1="1131.8" y1="304.2" x2="1131.8" y2="332.1" stroke="#c7c7c7" stroke-width="5.4"/>
<line x1="1134.5" y1="304.2" x2="1134.5" y2="332.1" stroke="#b0b0b0" stroke-width="0.8"/>
<line x1="1129.1" y1="304.2" x2="1129.1" y2="332.1" stroke="#b0b0b0" stroke-width="0.8"/>
<line x1="1130.6" y1="334.5" x2="1158.5" y2="348.4" stroke="#c7c7c7" stroke-width="5.4"/>
<line x1="1131.8" y1="332.1" x2="1159.7" y2="346.0" stroke="#b0b0b0" stroke-width="0.8"/>
<line x1="1129.3" y1="336.9" x2="1157.3" y2="350.8" stroke="#b0b0b0" stroke-width="0.8"/>
<line x1="1188.8" y1="306.5" x2="1216.8" y2="292.6" stroke="#c7c7c7" stroke-width="5.4"/>
<line x1="1187.6" y1="304.1" x2="1215.6" y2="290.1" stroke="#b0b0b0" stroke-width="0.8"/>
<line x1="1190.0" y1="308.9" x2="1218.0" y2="295.0" stroke="#b0b0b0" stroke-width="0.8"/>
<line x1="1266.3" y1="220.4" x2="1266.3" y2="248.2" stroke="#c7c7c7" stroke-width="5.4"/>
<line x1="1269.0" y1="220.4" x2="1269.0" y2="248.2" stroke="#b0b0b0" stroke-width="0.8"/>
<line x1="1263.6" y1="220.4" x2="1263.6" y2="248.2" stroke="#b0b0b0" stroke-width="0.8"/>
<line x1="1298.1" y1="287.7" x2="1326.1" y2="301.7" stroke="#c7c7c7" stroke-width="5.4"/>
<line x1="1299.3" y1="285.3" x2="1327.3" y2="299.3" stroke="#b0b0b0" stroke-width="0.8"/>
<line x1="1296.9" y1="290.1" x2="1324.9" y2="304.1" stroke="#b0b0b0" stroke-width="0.8"/>
<line x1="1324.9" y1="304.2" x2="1324.9" y2="332.1" stroke="#c7c7c7" stroke-width="5.4"/>
<line x1="1327.6" y1="304.2" x2="1327.6" y2="332.1" stroke="#b0b0b0" stroke-width="0.8"/>
<line x1="1322.2" y1="304.2" x2="1322.2" y2="332.1" stroke="#b0b0b0" stroke-width="0.8"/>
<line x1="1324.9" y1="220.4" x2="1324.9" y2="248.2" stroke="#2a9fdc" stroke-width="2.0" stroke-linecap="round"/>
<line x1="1296.9" y1="262.2" x2="1324.9" y2="248.3" stroke="#2a9fdc" stroke-width="1.8" stroke-linecap="round"/>
<line x1="1324.9" y1="248.3" x2="1352.8" y2="262.2" stroke="#2a9fdc" stroke-width="1.8" stroke-linecap="round"/>
<path d="M1312.3 214.1 Q1324.9 220.0 1337.4 214.1 Q1325.2 220.6 1324.9 234.3 Q1324.5 220.6 1312.3 214.1 Z" fill="#2a9fdc"/>
<line x1="1324.9" y1="218.3" x2="1324.9" y2="213.8" stroke="#6e6e6e" stroke-width="0.9"/>
<polygon points="1324.9,212.6 1326.4,215.6 1323.4,215.6" fill="#6e6e6e"/>
<line x1="1327.1" y1="222.0" x2="1331.1" y2="224.0" stroke="#6e6e6e" stroke-width="0.9"/>
<polygon points="1332.2,224.5 1328.9,224.5 1330.2,221.8" fill="#6e6e6e"/>
<line x1="1322.6" y1="222.0" x2="1318.6" y2="224.0" stroke="#6e6e6e" stroke-width="0.9"/>
<polygon points="1317.5,224.5 1319.5,221.8 1320.9,224.5" fill="#6e6e6e"/>
<path d="M1324.9 227.5 Q1318.2 223.1 1318.9 216.9 Q1324.9 214.6 1330.8 216.9 Q1331.5 223.1 1324.9 227.5 Z" fill="#fff01a" stroke="#6aa84f" stroke-width="0.6" stroke-linejoin="round"/>
<path d="M1284.4 255.9 Q1296.9 261.8 1309.5 255.9 Q1297.3 262.4 1296.9 276.2 Q1296.6 262.4 1284.4 255.9 Z" fill="#2a9fdc"/>
<line x1="1296.9" y1="260.2" x2="1296.9" y2="255.7" stroke="#6e6e6e" stroke-width="0.9"/>
<polygon points="1296.9,254.5 1298.4,257.5 1295.4,257.5" fill="#6e6e6e"/>
<line x1="1299.2" y1="263.8" x2="1303.2" y2="265.8" stroke="#6e6e6e" stroke-width="0.9"/>
<polygon points="1304.3,266.4 1300.9,266.4 1302.3,263.7" fill="#6e6e6e"/>
<line x1="1294.7" y1="263.8" x2="1290.6" y2="265.8" stroke="#6e6e6e" stroke-width="0.9"/>
<polygon points="1289.6,266.4 1291.6,263.7 1292.9,266.4" fill="#6e6e6e"/>
<path d="M1296.9 269.3 Q1290.3 264.9 1290.9 258.8 Q1296.9 256.4 1302.9 258.8 Q1303.5 264.9 1296.9 269.3 Z" fill="#fff01a" stroke="#6aa84f" stroke-width="0.6" stroke-linejoin="round"/>
<path d="M1340.3 255.9 Q1352.8 261.8 1365.3 255.9 Q1353.1 262.4 1352.8 276.2 Q1352.4 262.4 1340.3 255.9 Z" fill="#2a9fdc"/>
<line x1="1352.8" y1="260.2" x2="1352.8" y2="255.7" stroke="#6e6e6e" stroke-width="0.9"/>
<polygon points="1352.8,254.5 1354.3,257.5 1351.3,257.5" fill="#6e6e6e"/>
<line x1="1355.0" y1="263.8" x2="1359.1" y2="265.8" stroke="#6e6e6e" stroke-width="0.9"/>
<polygon points="1360.1,266.4 1356.8,266.4 1358.1,263.7" fill="#6e6e6e"/>
<line x1="1350.5" y1="263.8" x2="1346.5" y2="265.8" stroke="#6e6e6e" stroke-width="0.9"/>
<polygon points="1345.4,266.4 1347.4,263.7 1348.8,266.4" fill="#6e6e6e"/>
<path d="M1352.8 269.3 Q1346.2 264.9 1346.8 258.8 Q1352.8 256.4 1358.8 258.8 Q1359.4 264.9 1352.8 269.3 Z" fill="#fff01a" stroke="#6aa84f" stroke-width="0.6" stroke-linejoin="round"/>
<path d="M1256.5 297.8 Q1269.0 303.7 1281.5 297.8 Q1269.3 304.3 1269.0 318.1 Q1268.7 304.3 1256.5 297.8 Z" fill="#2a9fdc"/>
<line x1="1269.0" y1="302.1" x2="1269.0" y2="297.6" stroke="#6e6e6e" stroke-width="0.9"/>
<polygon points="1269.0,296.4 1270.5,299.4 1267.5,299.4" fill="#6e6e6e"/>
<line x1="1271.3" y1="305.7" x2="1275.3" y2="307.7" stroke="#6e6e6e" stroke-width="0.9"/>
<polygon points="1276.4,308.3 1273.0,308.3 1274.3,305.6" fill="#6e6e6e"/>
<line x1="1266.7" y1="305.7" x2="1262.7" y2="307.7" stroke="#6e6e6e" stroke-width="0.9"/>
<polygon points="1261.6,308.3 1263.7,305.6 1265.0,308.3" fill="#6e6e6e"/>
<path d="M1269.0 311.2 Q1262.4 306.8 1263.0 300.7 Q1269.0 298.3 1275.0 300.7 Q1275.6 306.8 1269.0 311.2 Z" fill="#fff01a" stroke="#6aa84f" stroke-width="0.6" stroke-linejoin="round"/>
<path d="M1368.2 297.8 Q1380.7 303.7 1393.2 297.8 Q1381.1 304.3 1380.7 318.1 Q1380.4 304.3 1368.2 297.8 Z" fill="#2a9fdc"/>
<line x1="1380.7" y1="302.1" x2="1380.7" y2="297.6" stroke="#6e6e6e" stroke-width="0.9"/>
<polygon points="1380.7,296.4 1382.2,299.4 1379.2,299.4" fill="#6e6e6e"/>
<line x1="1383.0" y1="305.7" x2="1387.0" y2="307.7" stroke="#6e6e6e" stroke-width="0.9"/>
<polygon points="1388.1,308.3 1384.7,308.3 1386.1,305.6" fill="#6e6e6e"/>
<line x1="1378.5" y1="305.7" x2="1374.4" y2="307.7" stroke="#6e6e6e" stroke-width="0.9"/>
<polygon points="1373.4,308.3 1375.4,305.6 1376.7,308.3" fill="#6e6e6e"/>
<path d="M1380.7 311.2 Q1374.1 306.8 1374.7 300.7 Q1380.7 298.3 1386.7 300.7 Q1387.3 306.8 1380.7 311.2 Z" fill="#fff01a" stroke="#6aa84f" stroke-width="0.6" stroke-linejoin="round"/>
<path d="M1340.3 339.7 Q1352.8 345.6 1365.3 339.7 Q1352.8 346.1 1340.3 339.7 Z" fill="#2a9fdc"/>
<line x1="1352.8" y1="344.0" x2="1352.8" y2="339.5" stroke="#6e6e6e" stroke-width="0.9"/>
<polygon points="1352.8,338.3 1354.3,341.3 1351.3,341.3" fill="#6e6e6e"/>
<line x1="1355.0" y1="347.6" x2="1359.1" y2="349.6" stroke="#6e6e6e" stroke-width="0.9"/>
<polygon points="1360.1,350.2 1356.8,350.2 1358.1,347.5" fill="#6e6e6e"/>
<line x1="1350.5" y1="347.6" x2="1346.5" y2="349.6" stroke="#6e6e6e" stroke-width="0.9"/>
<polygon points="1345.4,350.2 1347.4,347.5 1348.8,350.2" fill="#6e6e6e"/>
<path d="M1352.8 353.1 Q1346.2 348.7 1346.8 342.6 Q1352.8 340.2 1358.8 342.6 Q1359.4 348.7 1352.8 353.1 Z" fill="#fff01a" stroke="#6aa84f" stroke-width="0.6" stroke-linejoin="round"/>
<line x1="1518.0" y1="220.4" x2="1518.0" y2="248.2" stroke="#2a9fdc" stroke-width="1.1"/>
<line x1="1518.0" y1="248.2" x2="1490.0" y2="262.2" stroke="#2a9fdc" stroke-width="1.1"/>
<line x1="1490.0" y1="262.2" x2="1462.1" y2="248.2" stroke="#2a9fdc" stroke-width="1.1"/>
<line x1="1573.8" y1="248.2" x2="1545.9" y2="262.2" stroke="#2a9fdc" stroke-width="1.1"/>
<line x1="1545.9" y1="262.2" x2="1518.0" y2="248.2" stroke="#2a9fdc" stroke-width="1.1"/>
<line x1="1490.0" y1="262.2" x2="1490.0" y2="290.1" stroke="#2a9fdc" stroke-width="1.1"/>
<line x1="1490.0" y1="290.1" x2="1462.1" y2="304.1" stroke="#2a9fdc" stroke-width="1.1"/>
<line x1="1545.9" y1="262.2" x2="1545.9" y2="290.1" stroke="#2a9fdc" stroke-width="1.1"/>
<line x1="1545.9" y1="290.1" x2="1518.0" y2="304.1" stroke="#2a9fdc" stroke-width="1.1"/>
<line x1="1518.0" y1="304.1" x2="1490.0" y2="290.1" stroke="#2a9fdc" stroke-width="1.1"/>
<line x1="1573.8" y1="304.1" x2="1545.9" y2="290.1" stroke="#2a9fdc" stroke-width="1.1"/>
<line x1="1518.0" y1="304.2" x2="1518.0" y2="332.1" stroke="#2a9fdc" stroke-width="1.1"/>
<path d="M1511.3 217.0 Q1518.0 220.4 1524.7 217.0 Q1518.0 220.4 1518.0 227.9 Q1518.0 220.4 1511.3 217.0 Z" fill="#2a9fdc"/>
<path d="M1518.0 240.8 Q1518.0 248.2 1524.7 251.6 Q1518.0 248.2 1511.3 251.6 Q1518.0 248.2 1518.0 240.8 Z" fill="#2a9fdc"/>
<path d="M1483.3 258.8 Q1490.0 262.2 1496.7 258.8 Q1490.0 262.2 1490.0 269.7 Q1490.0 262.2 1483.3 258.8 Z" fill="#2a9fdc"/>
<path d="M1462.1 240.8 Q1462.1 248.2 1468.8 251.6 Q1462.1 248.2 1455.4 251.6 Q1462.1 248.2 1462.1 240.8 Z" fill="#2a9fdc"/>
<path d="M1573.8 240.8 Q1573.8 248.2 1580.5 251.6 Q1573.8 248.2 1567.1 251.6 Q1573.8 248.2 1573.8 240.8 Z" fill="#2a9fdc"/>
<path d="M1539.2 258.8 Q1545.9 262.2 1552.6 258.8 Q1545.9 262.2 1545.9 269.7 Q1545.9 262.2 1539.2 258.8 Z" fill="#2a9fdc"/>
<path d="M1490.0 282.6 Q1490.0 290.1 1496.7 293.5 Q1490.0 290.1 1483.3 293.5 Q1490.0 290.1 1490.0 282.6 Z" fill="#2a9fdc"/>
<path d="M1455.4 300.7 Q1462.1 304.1 1468.8 300.7 Q1462.1 304.1 1462.1 311.6 Q1462.1 304.1 1455.4 300.7 Z" fill="#2a9fdc"/>
<path d="M1545.9 282.6 Q1545.9 290.1 1552.6 293.5 Q1545.9 290.1 1539.2 293.5 Q1545.9 290.1 1545.9 282.6 Z" fill="#2a9fdc"/>
<path d="M1511.3 300.7 Q1518.0 304.1 1524.7 300.7 Q1518.0 304.1 1518.0 311.6 Q1518.0 304.1 1511.3 300.7 Z" fill="#2a9fdc"/>
<path d="M1567.1 300.7 Q1573.8 304.1 1580.5 300.7 Q1573.8 304.1 1573.8 311.6 Q1573.8 304.1 1567.1 300.7 Z" fill="#2a9fdc"/>
<path d="M1518.0 324.6 Q1518.0 332.1 1524.7 335.4 Q1518.0 332.1 1511.3 335.4 Q1518.0 332.1 1518.0 324.6 Z" fill="#2a9fdc"/>
<line x1="1459.4" y1="220.4" x2="1459.4" y2="248.2" stroke="#c7c7c7" stroke-width="5.4"/>
<line x1="1462.1" y1="220.4" x2="1462.1" y2="248.2" stroke="#b0b0b0" stroke-width="0.8"/>
<line x1="1456.7" y1="220.4" x2="1456.7" y2="248.2" stroke="#b0b0b0" stroke-width="0.8"/>
<path d="M1538.7 342.4 Q1545.9 345.8 1553.0 342.4 Q1545.9 346.1 1538.7 342.4 Z" fill="#2a9fdc"/>
<line x1="1518.0" y1="218.8" x2="1518.0" y2="211.3" stroke="#6e6e6e" stroke-width="0.9"/>
<polygon points="1518.0,210.1 1519.5,213.1 1516.5,213.1" fill="#6e6e6e"/>
<line x1="1520.2" y1="222.5" x2="1526.9" y2="225.8" stroke="#6e6e6e" stroke-width="0.9"/>
<polygon points="1528.0,226.4 1524.6,226.4 1526.0,223.7" fill="#6e6e6e"/>
<line x1="1515.7" y1="222.5" x2="1509.0" y2="225.8" stroke="#6e6e6e" stroke-width="0.9"/>
<polygon points="1507.9,226.4 1509.9,223.7 1511.3,226.4" fill="#6e6e6e"/>
<path d="M1518.0 228.0 Q1511.3 223.6 1512.0 217.4 Q1518.0 215.1 1523.9 217.4 Q1524.6 223.6 1518.0 228.0 Z" fill="#f07a22" stroke="#7a7a5a" stroke-width="0.6" stroke-linejoin="round"/>
<line x1="1490.0" y1="260.7" x2="1490.0" y2="253.2" stroke="#6e6e6e" stroke-width="0.9"/>
<polygon points="1490.0,252.0 1491.5,255.0 1488.5,255.0" fill="#6e6e6e"/>
<line x1="1492.3" y1="264.3" x2="1499.0" y2="267.7" stroke="#6e6e6e" stroke-width="0.9"/>
<polygon points="1500.1,268.2 1496.7,268.2 1498.1,265.5" fill="#6e6e6e"/>
<line x1="1487.8" y1="264.3" x2="1481.1" y2="267.7" stroke="#6e6e6e" stroke-width="0.9"/>
<polygon points="1480.0,268.2 1482.0,265.5 1483.3,268.2" fill="#6e6e6e"/>
<path d="M1490.0 269.8 Q1483.4 265.4 1484.0 259.3 Q1490.0 256.9 1496.0 259.3 Q1496.6 265.4 1490.0 269.8 Z" fill="#f07a22" stroke="#7a7a5a" stroke-width="0.6" stroke-linejoin="round"/>
<line x1="1462.1" y1="302.6" x2="1462.1" y2="295.1" stroke="#6e6e6e" stroke-width="0.9"/>
<polygon points="1462.1,293.9 1463.6,296.9 1460.6,296.9" fill="#6e6e6e"/>
<line x1="1464.4" y1="306.2" x2="1471.1" y2="309.6" stroke="#6e6e6e" stroke-width="0.9"/>
<polygon points="1472.1,310.1 1468.8,310.1 1470.1,307.4" fill="#6e6e6e"/>
<line x1="1459.8" y1="306.2" x2="1453.1" y2="309.6" stroke="#6e6e6e" stroke-width="0.9"/>
<polygon points="1452.1,310.1 1454.1,307.4 1455.4,310.1" fill="#6e6e6e"/>
<path d="M1462.1 311.7 Q1455.5 307.3 1456.1 301.2 Q1462.1 298.8 1468.1 301.2 Q1468.7 307.3 1462.1 311.7 Z" fill="#f07a22" stroke="#7a7a5a" stroke-width="0.6" stroke-linejoin="round"/>
<line x1="1573.8" y1="302.6" x2="1573.8" y2="295.1" stroke="#6e6e6e" stroke-width="0.9"/>
<polygon points="1573.8,293.9 1575.3,296.9 1572.3,296.9" fill="#6e6e6e"/>
<line x1="1576.1" y1="306.2" x2="1582.8" y2="309.6" stroke="#6e6e6e" stroke-width="0.9"/>
<polygon points="1583.9,310.1 1580.5,310.1 1581.8,307.4" fill="#6e6e6e"/>
<line x1="1571.6" y1="306.2" x2="1564.9" y2="309.6" stroke="#6e6e6e" stroke-width="0.9"/>
<polygon points="1563.8,310.1 1565.8,307.4 1567.1,310.1" fill="#6e6e6e"/>
<path d="M1573.8 311.7 Q1567.2 307.3 1567.8 301.2 Q1573.8 298.8 1579.8 301.2 Q1580.4 307.3 1573.8 311.7 Z" fill="#f07a22" stroke="#7a7a5a" stroke-width="0.6" stroke-linejoin="round"/>
<line x1="1545.9" y1="344.5" x2="1545.9" y2="337.0" stroke="#6e6e6e" stroke-width="0.9"/>
<polygon points="1545.9,335.8 1547.4,338.8 1544.4,338.8" fill="#6e6e6e"/>
<line x1="1548.1" y1="348.1" x2="1554.9" y2="351.5" stroke="#6e6e6e" stroke-width="0.9"/>
<polygon points="1555.9,352.0 1552.6,352.0 1553.9,349.3" fill="#6e6e6e"/>
<line x1="1543.6" y1="348.1" x2="1536.9" y2="351.5" stroke="#6e6e6e" stroke-width="0.9"/>
<polygon points="1535.9,352.0 1537.9,349.3 1539.2,352.0" fill="#6e6e6e"/>
<path d="M1545.9 353.6 Q1539.3 349.2 1539.9 343.1 Q1545.9 340.7 1551.9 343.1 Q1552.5 349.2 1545.9 353.6 Z" fill="#f07a22" stroke="#7a7a5a" stroke-width="0.6" stroke-linejoin="round"/>
<line x1="1518.0" y1="249.2" x2="1518.0" y2="254.2" stroke="#6e6e6e" stroke-width="0.9"/>
<polygon points="1518.0,255.4 1516.5,252.4 1519.5,252.4" fill="#6e6e6e"/>
<line x1="1516.2" y1="246.4" x2="1511.7" y2="244.1" stroke="#6e6e6e" stroke-width="0.9"/>
<polygon points="1510.6,243.6 1514.0,243.6 1512.6,246.3" fill="#6e6e6e"/>
<line x1="1519.7" y1="246.4" x2="1524.2" y2="244.1" stroke="#6e6e6e" stroke-width="0.9"/>
<polygon points="1525.3,243.6 1523.3,246.3 1521.9,243.6" fill="#6e6e6e"/>
<path d="M1518.0 242.0 Q1512.7 245.5 1513.2 250.3 Q1518.0 252.2 1522.7 250.3 Q1523.2 245.5 1518.0 242.0 Z" fill="#ffe81a" stroke="#7a7a5a" stroke-width="0.6" stroke-linejoin="round"/>
<line x1="1527.0" y1="251.3" x2="1527.0" y2="247.3" stroke="#6e6e6e" stroke-width="0.9"/>
<polygon points="1527.0,246.1 1528.5,249.1 1525.5,249.1" fill="#6e6e6e"/>
<line x1="1528.2" y1="253.4" x2="1531.8" y2="255.2" stroke="#6e6e6e" stroke-width="0.9"/>
<polygon points="1532.9,255.7 1529.5,255.7 1530.9,253.0" fill="#6e6e6e"/>
<line x1="1525.7" y1="253.4" x2="1522.1" y2="255.2" stroke="#6e6e6e" stroke-width="0.9"/>
<polygon points="1521.0,255.7 1523.0,253.0 1524.4,255.7" fill="#6e6e6e"/>
<path d="M1527.0 256.5 Q1523.2 254.0 1523.5 250.5 Q1527.0 249.2 1530.4 250.5 Q1530.7 254.0 1527.0 256.5 Z" fill="#ffe81a" stroke="#7a7a5a" stroke-width="0.6" stroke-linejoin="round"/>
<line x1="1573.8" y1="249.1" x2="1573.8" y2="254.1" stroke="#6e6e6e" stroke-width="0.9"/>
<polygon points="1573.8,255.3 1572.3,252.3 1575.3,252.3" fill="#6e6e6e"/>
<line x1="1572.2" y1="246.4" x2="1567.7" y2="244.2" stroke="#6e6e6e" stroke-width="0.9"/>
<polygon points="1566.6,243.7 1570.0,243.7 1568.6,246.3" fill="#6e6e6e"/>
<line x1="1575.5" y1="246.4" x2="1579.9" y2="244.2" stroke="#6e6e6e" stroke-width="0.9"/>
<polygon points="1581.0,243.7 1579.0,246.3 1577.7,243.7" fill="#6e6e6e"/>
<path d="M1573.8 242.4 Q1569.0 245.6 1569.5 250.1 Q1573.8 251.8 1578.2 250.1 Q1578.7 245.6 1573.8 242.4 Z" fill="#ffd21a" stroke="#7a7a5a" stroke-width="0.6" stroke-linejoin="round"/>
<line x1="1545.9" y1="261.2" x2="1545.9" y2="256.2" stroke="#6e6e6e" stroke-width="0.9"/>
<polygon points="1545.9,255.0 1547.4,258.0 1544.4,258.0" fill="#6e6e6e"/>
<line x1="1547.7" y1="264.1" x2="1552.2" y2="266.3" stroke="#6e6e6e" stroke-width="0.9"/>
<polygon points="1553.2,266.9 1549.9,266.9 1551.2,264.2" fill="#6e6e6e"/>
<line x1="1544.1" y1="264.1" x2="1539.6" y2="266.3" stroke="#6e6e6e" stroke-width="0.9"/>
<polygon points="1538.6,266.9 1540.6,264.2 1541.9,266.9" fill="#6e6e6e"/>
<path d="M1545.9 268.4 Q1540.6 264.9 1541.1 260.1 Q1545.9 258.2 1550.6 260.1 Q1551.1 264.9 1545.9 268.4 Z" fill="#ffd21a" stroke="#7a7a5a" stroke-width="0.6" stroke-linejoin="round"/>
<line x1="1554.9" y1="259.2" x2="1554.9" y2="263.2" stroke="#6e6e6e" stroke-width="0.9"/>
<polygon points="1554.9,264.4 1553.4,261.4 1556.4,261.4" fill="#6e6e6e"/>
<line x1="1553.5" y1="257.0" x2="1550.0" y2="255.2" stroke="#6e6e6e" stroke-width="0.9"/>
<polygon points="1548.9,254.7 1552.2,254.7 1550.9,257.4" fill="#6e6e6e"/>
<line x1="1556.2" y1="257.0" x2="1559.8" y2="255.2" stroke="#6e6e6e" stroke-width="0.9"/>
<polygon points="1560.9,254.7 1558.9,257.4 1557.5,254.7" fill="#6e6e6e"/>
<path d="M1554.9 253.7 Q1550.9 256.4 1551.3 260.1 Q1554.9 261.5 1558.5 260.1 Q1558.9 256.4 1554.9 253.7 Z" fill="#ffd21a" stroke="#7a7a5a" stroke-width="0.6" stroke-linejoin="round"/>
<line x1="1490.0" y1="282.8" x2="1490.0" y2="287.2" stroke="#6e6e6e" stroke-width="0.9"/>
<polygon points="1490.0,288.4 1488.5,285.4 1491.5,285.4" fill="#6e6e6e"/>
<line x1="1488.6" y1="280.4" x2="1484.6" y2="278.4" stroke="#6e6e6e" stroke-width="0.9"/>
<polygon points="1483.5,277.9 1486.9,277.9 1485.5,280.6" fill="#6e6e6e"/>
<line x1="1491.5" y1="280.4" x2="1495.5" y2="278.4" stroke="#6e6e6e" stroke-width="0.9"/>
<polygon points="1496.6,277.9 1494.5,280.6 1493.2,277.9" fill="#6e6e6e"/>
<path d="M1490.0 276.9 Q1485.8 279.8 1486.2 283.6 Q1490.0 285.1 1493.8 283.6 Q1494.2 279.8 1490.0 276.9 Z" fill="#ffd21a" stroke="#7a7a5a" stroke-width="0.6" stroke-linejoin="round"/>
<line x1="1490.0" y1="293.6" x2="1490.0" y2="298.1" stroke="#6e6e6e" stroke-width="0.9"/>
<polygon points="1490.0,299.3 1488.5,296.3 1491.5,296.3" fill="#6e6e6e"/>
<line x1="1488.3" y1="290.8" x2="1484.3" y2="288.8" stroke="#6e6e6e" stroke-width="0.9"/>
<polygon points="1483.2,288.2 1486.6,288.2 1485.2,290.9" fill="#6e6e6e"/>
<line x1="1491.7" y1="290.8" x2="1495.8" y2="288.8" stroke="#6e6e6e" stroke-width="0.9"/>
<polygon points="1496.8,288.2 1494.8,290.9 1493.5,288.2" fill="#6e6e6e"/>
<path d="M1490.0 286.6 Q1485.0 290.0 1485.5 294.6 Q1490.0 296.4 1494.6 294.6 Q1495.1 290.0 1490.0 286.6 Z" fill="#ffd21a" stroke="#7a7a5a" stroke-width="0.6" stroke-linejoin="round"/>
<line x1="1474.1" y1="299.5" x2="1474.1" y2="302.5" stroke="#6e6e6e" stroke-width="0.9"/>
<polygon points="1474.1,303.7 1472.6,300.7 1475.6,300.7" fill="#6e6e6e"/>
<line x1="1472.8" y1="297.5" x2="1470.1" y2="296.1" stroke="#6e6e6e" stroke-width="0.9"/>
<polygon points="1469.1,295.6 1472.4,295.6 1471.1,298.3" fill="#6e6e6e"/>
<line x1="1475.4" y1="297.5" x2="1478.1" y2="296.1" stroke="#6e6e6e" stroke-width="0.9"/>
<polygon points="1479.1,295.6 1477.1,298.3 1475.8,295.6" fill="#6e6e6e"/>
<path d="M1474.1 294.3 Q1470.3 296.8 1470.7 300.3 Q1474.1 301.7 1477.5 300.3 Q1477.9 296.8 1474.1 294.3 Z" fill="#ffe81a" stroke="#7a7a5a" stroke-width="0.6" stroke-linejoin="round"/>
<line x1="1529.0" y1="339.0" x2="1529.0" y2="342.0" stroke="#6e6e6e" stroke-width="0.9"/>
<polygon points="1529.0,343.2 1527.5,340.2 1530.5,340.2" fill="#6e6e6e"/>
<line x1="1527.7" y1="336.9" x2="1525.0" y2="335.6" stroke="#6e6e6e" stroke-width="0.9"/>
<polygon points="1523.9,335.0 1527.3,335.0 1525.9,337.7" fill="#6e6e6e"/>
<line x1="1530.2" y1="336.9" x2="1532.9" y2="335.6" stroke="#6e6e6e" stroke-width="0.9"/>
<polygon points="1534.0,335.0 1532.0,337.7 1530.7,335.0" fill="#6e6e6e"/>
<path d="M1529.0 333.8 Q1525.2 336.3 1525.5 339.8 Q1529.0 341.2 1532.4 339.8 Q1532.7 336.3 1529.0 333.8 Z" fill="#ffe81a" stroke="#7a7a5a" stroke-width="0.6" stroke-linejoin="round"/>
<line x1="1711.1" y1="220.4" x2="1711.1" y2="248.2" stroke="#2a9fdc" stroke-width="1.5"/>
<line x1="1711.1" y1="248.2" x2="1683.1" y2="262.2" stroke="#2a9fdc" stroke-width="1.5"/>
<line x1="1683.1" y1="262.2" x2="1655.2" y2="248.2" stroke="#2a9fdc" stroke-width="1.5"/>
<line x1="1766.9" y1="248.2" x2="1739.0" y2="262.2" stroke="#2a9fdc" stroke-width="1.5"/>
<line x1="1739.0" y1="262.2" x2="1711.1" y2="248.2" stroke="#2a9fdc" stroke-width="1.5"/>
<line x1="1683.1" y1="262.2" x2="1683.1" y2="290.1" stroke="#2a9fdc" stroke-width="1.5"/>
<line x1="1683.1" y1="290.1" x2="1655.2" y2="304.1" stroke="#2a9fdc" stroke-width="1.5"/>
<line x1="1739.0" y1="262.2" x2="1739.0" y2="290.1" stroke="#2a9fdc" stroke-width="1.5"/>
<line x1="1739.0" y1="290.1" x2="1711.1" y2="304.1" stroke="#2a9fdc" stroke-width="1.5"/>
<line x1="1711.1" y1="304.1" x2="1683.1" y2="290.1" stroke="#2a9fdc" stroke-width="1.5"/>
<line x1="1766.9" y1="304.1" x2="1739.0" y2="290.1" stroke="#2a9fdc" stroke-width="1.5"/>
<line x1="1711.1" y1="304.2" x2="1711.1" y2="332.1" stroke="#2a9fdc" stroke-width="1.5"/>
<path d="M1702.6 216.1 Q1711.1 220.4 1719.6 216.1 Q1711.1 220.4 1711.1 229.9 Q1711.1 220.4 1702.6 216.1 Z" fill="#2a9fdc"/>
<path d="M1711.1 238.8 Q1711.1 248.2 1719.6 252.5 Q1711.1 248.2 1702.6 252.5 Q1711.1 248.2 1711.1 238.8 Z" fill="#2a9fdc"/>
<path d="M1674.6 258.0 Q1683.1 262.2 1691.6 258.0 Q1683.1 262.2 1683.1 271.7 Q1683.1 262.2 1674.6 258.0 Z" fill="#2a9fdc"/>
<path d="M1655.2 238.8 Q1655.2 248.2 1663.7 252.5 Q1655.2 248.2 1646.7 252.5 Q1655.2 248.2 1655.2 238.8 Z" fill="#2a9fdc"/>
<path d="M1766.9 238.8 Q1766.9 248.2 1775.4 252.5 Q1766.9 248.2 1758.4 252.5 Q1766.9 248.2 1766.9 238.8 Z" fill="#2a9fdc"/>
<path d="M1730.5 258.0 Q1739.0 262.2 1747.5 258.0 Q1739.0 262.2 1739.0 271.7 Q1739.0 262.2 1730.5 258.0 Z" fill="#2a9fdc"/>
<path d="M1683.1 280.6 Q1683.1 290.1 1691.6 294.4 Q1683.1 290.1 1674.6 294.4 Q1683.1 290.1 1683.1 280.6 Z" fill="#2a9fdc"/>
<path d="M1646.7 299.9 Q1655.2 304.1 1663.7 299.9 Q1655.2 304.1 1655.2 313.6 Q1655.2 304.1 1646.7 299.9 Z" fill="#2a9fdc"/>
<path d="M1739.0 280.6 Q1739.0 290.1 1747.5 294.4 Q1739.0 290.1 1730.5 294.4 Q1739.0 290.1 1739.0 280.6 Z" fill="#2a9fdc"/>
<path d="M1702.6 299.9 Q1711.1 304.1 1719.6 299.9 Q1711.1 304.1 1711.1 313.6 Q1711.1 304.1 1702.6 299.9 Z" fill="#2a9fdc"/>
<path d="M1758.4 299.9 Q1766.9 304.1 1775.4 299.9 Q1766.9 304.1 1766.9 313.6 Q1766.9 304.1 1758.4 299.9 Z" fill="#2a9fdc"/>
<path d="M1711.1 322.6 Q1711.1 332.1 1719.6 336.3 Q1711.1 332.1 1702.6 336.3 Q1711.1 332.1 1711.1 322.6 Z" fill="#2a9fdc"/>
<path d="M1730.0 341.5 Q1739.0 345.7 1747.9 341.5 Q1739.0 346.1 1730.0 341.5 Z" fill="#2a9fdc"/>
<line x1="1711.1" y1="218.8" x2="1711.1" y2="209.3" stroke="#6e6e6e" stroke-width="0.9"/>
<polygon points="1711.1,208.1 1712.6,211.1 1709.6,211.1" fill="#6e6e6e"/>
<line x1="1713.3" y1="222.5" x2="1721.8" y2="226.7" stroke="#6e6e6e" stroke-width="0.9"/>
<polygon points="1722.9,227.3 1719.5,227.3 1720.9,224.6" fill="#6e6e6e"/>
<line x1="1708.8" y1="222.5" x2="1700.3" y2="226.7" stroke="#6e6e6e" stroke-width="0.9"/>
<polygon points="1699.2,227.3 1701.2,224.6 1702.6,227.3" fill="#6e6e6e"/>
<path d="M1711.1 228.0 Q1704.4 223.6 1705.1 217.4 Q1711.1 215.1 1717.0 217.4 Q1717.7 223.6 1711.1 228.0 Z" fill="#e3202c" stroke="#8a5a5a" stroke-width="0.6" stroke-linejoin="round"/>
<line x1="1683.1" y1="260.7" x2="1683.1" y2="251.2" stroke="#6e6e6e" stroke-width="0.9"/>
<polygon points="1683.1,250.0 1684.6,253.0 1681.6,253.0" fill="#6e6e6e"/>
<line x1="1685.4" y1="264.3" x2="1693.9" y2="268.6" stroke="#6e6e6e" stroke-width="0.9"/>
<polygon points="1695.0,269.1 1691.6,269.1 1692.9,266.4" fill="#6e6e6e"/>
<line x1="1680.9" y1="264.3" x2="1672.4" y2="268.6" stroke="#6e6e6e" stroke-width="0.9"/>
<polygon points="1671.3,269.1 1673.3,266.4 1674.7,269.1" fill="#6e6e6e"/>
<path d="M1683.1 269.8 Q1676.5 265.4 1677.1 259.3 Q1683.1 256.9 1689.1 259.3 Q1689.7 265.4 1683.1 269.8 Z" fill="#e3202c" stroke="#8a5a5a" stroke-width="0.6" stroke-linejoin="round"/>
<line x1="1766.9" y1="302.6" x2="1766.9" y2="293.1" stroke="#6e6e6e" stroke-width="0.9"/>
<polygon points="1766.9,291.9 1768.4,294.9 1765.4,294.9" fill="#6e6e6e"/>
<line x1="1769.2" y1="306.2" x2="1777.7" y2="310.5" stroke="#6e6e6e" stroke-width="0.9"/>
<polygon points="1778.7,311.0 1775.4,311.0 1776.7,308.3" fill="#6e6e6e"/>
<line x1="1764.7" y1="306.2" x2="1756.2" y2="310.5" stroke="#6e6e6e" stroke-width="0.9"/>
<polygon points="1755.1,311.0 1757.1,308.3 1758.4,311.0" fill="#6e6e6e"/>
<path d="M1766.9 311.7 Q1760.3 307.3 1760.9 301.2 Q1766.9 298.8 1772.9 301.2 Q1773.5 307.3 1766.9 311.7 Z" fill="#e3202c" stroke="#8a5a5a" stroke-width="0.6" stroke-linejoin="round"/>
<line x1="1739.0" y1="344.5" x2="1739.0" y2="335.0" stroke="#6e6e6e" stroke-width="0.9"/>
<polygon points="1739.0,333.8 1740.5,336.8 1737.5,336.8" fill="#6e6e6e"/>
<line x1="1741.2" y1="348.1" x2="1749.7" y2="352.4" stroke="#6e6e6e" stroke-width="0.9"/>
<polygon points="1750.8,352.9 1747.5,352.9 1748.8,350.2" fill="#6e6e6e"/>
<line x1="1736.7" y1="348.1" x2="1728.2" y2="352.4" stroke="#6e6e6e" stroke-width="0.9"/>
<polygon points="1727.2,352.9 1729.2,350.2 1730.5,352.9" fill="#6e6e6e"/>
<path d="M1739.0 353.6 Q1732.4 349.2 1733.0 343.1 Q1739.0 340.7 1745.0 343.1 Q1745.6 349.2 1739.0 353.6 Z" fill="#e3202c" stroke="#8a5a5a" stroke-width="0.6" stroke-linejoin="round"/>
<line x1="1655.2" y1="302.9" x2="1655.2" y2="295.4" stroke="#6e6e6e" stroke-width="0.9"/>
<polygon points="1655.2,294.2 1656.7,297.2 1653.7,297.2" fill="#6e6e6e"/>
<line x1="1657.2" y1="306.1" x2="1663.9" y2="309.4" stroke="#6e6e6e" stroke-width="0.9"/>
<polygon points="1665.0,310.0 1661.6,310.0 1662.9,307.3" fill="#6e6e6e"/>
<line x1="1653.2" y1="306.1" x2="1646.5" y2="309.4" stroke="#6e6e6e" stroke-width="0.9"/>
<polygon points="1645.4,310.0 1647.5,307.3 1648.8,310.0" fill="#6e6e6e"/>
<path d="M1655.2 310.9 Q1649.4 307.0 1650.0 301.7 Q1655.2 299.6 1660.4 301.7 Q1661.0 307.0 1655.2 310.9 Z" fill="#f07a22" stroke="#7a7a5a" stroke-width="0.6" stroke-linejoin="round"/>
<line x1="1665.2" y1="300.3" x2="1665.2" y2="304.3" stroke="#6e6e6e" stroke-width="0.9"/>
<polygon points="1665.2,305.5 1663.7,302.5 1666.7,302.5" fill="#6e6e6e"/>
<line x1="1663.7" y1="297.8" x2="1660.1" y2="296.1" stroke="#6e6e6e" stroke-width="0.9"/>
<polygon points="1659.0,295.5 1662.4,295.5 1661.1,298.2" fill="#6e6e6e"/>
<line x1="1666.7" y1="297.8" x2="1670.3" y2="296.1" stroke="#6e6e6e" stroke-width="0.9"/>
<polygon points="1671.4,295.5 1669.3,298.2 1668.0,295.5" fill="#6e6e6e"/>
<path d="M1665.2 294.2 Q1660.8 297.1 1661.2 301.2 Q1665.2 302.8 1669.2 301.2 Q1669.6 297.1 1665.2 294.2 Z" fill="#f07a22" stroke="#7a7a5a" stroke-width="0.6" stroke-linejoin="round"/>
<line x1="1711.1" y1="249.2" x2="1711.1" y2="254.2" stroke="#6e6e6e" stroke-width="0.9"/>
<polygon points="1711.1,255.4 1709.6,252.4 1712.6,252.4" fill="#6e6e6e"/>
<line x1="1709.3" y1="246.4" x2="1704.8" y2="244.1" stroke="#6e6e6e" stroke-width="0.9"/>
<polygon points="1703.7,243.6 1707.1,243.6 1705.7,246.3" fill="#6e6e6e"/>
<line x1="1712.8" y1="246.4" x2="1717.3" y2="244.1" stroke="#6e6e6e" stroke-width="0.9"/>
<polygon points="1718.4,243.6 1716.4,246.3 1715.0,243.6" fill="#6e6e6e"/>
<path d="M1711.1 242.0 Q1705.8 245.5 1706.3 250.3 Q1711.1 252.2 1715.8 250.3 Q1716.3 245.5 1711.1 242.0 Z" fill="#ffd21a" stroke="#7a7a5a" stroke-width="0.6" stroke-linejoin="round"/>
<line x1="1720.1" y1="251.2" x2="1720.1" y2="247.2" stroke="#6e6e6e" stroke-width="0.9"/>
<polygon points="1720.1,246.0 1721.6,249.0 1718.6,249.0" fill="#6e6e6e"/>
<line x1="1721.4" y1="253.4" x2="1725.0" y2="255.2" stroke="#6e6e6e" stroke-width="0.9"/>
<polygon points="1726.1,255.8 1722.7,255.8 1724.1,253.1" fill="#6e6e6e"/>
<line x1="1718.7" y1="253.4" x2="1715.1" y2="255.2" stroke="#6e6e6e" stroke-width="0.9"/>
<polygon points="1714.0,255.8 1716.1,253.1 1717.4,255.8" fill="#6e6e6e"/>
<path d="M1720.1 256.7 Q1716.1 254.1 1716.5 250.4 Q1720.1 248.9 1723.7 250.4 Q1724.0 254.1 1720.1 256.7 Z" fill="#ffd21a" stroke="#7a7a5a" stroke-width="0.6" stroke-linejoin="round"/>
<line x1="1766.9" y1="249.1" x2="1766.9" y2="254.1" stroke="#6e6e6e" stroke-width="0.9"/>
<polygon points="1766.9,255.3 1765.4,252.3 1768.4,252.3" fill="#6e6e6e"/>
<line x1="1765.3" y1="246.4" x2="1760.8" y2="244.2" stroke="#6e6e6e" stroke-width="0.9"/>
<polygon points="1759.7,243.7 1763.1,243.7 1761.7,246.3" fill="#6e6e6e"/>
<line x1="1768.6" y1="246.4" x2="1773.0" y2="244.2" stroke="#6e6e6e" stroke-width="0.9"/>
<polygon points="1774.1,243.7 1772.1,246.3 1770.8,243.7" fill="#6e6e6e"/>
<path d="M1766.9 242.4 Q1762.1 245.6 1762.6 250.1 Q1766.9 251.8 1771.3 250.1 Q1771.8 245.6 1766.9 242.4 Z" fill="#f07a22" stroke="#7a7a5a" stroke-width="0.6" stroke-linejoin="round"/>
<line x1="1739.0" y1="261.2" x2="1739.0" y2="256.2" stroke="#6e6e6e" stroke-width="0.9"/>
<polygon points="1739.0,255.0 1740.5,258.0 1737.5,258.0" fill="#6e6e6e"/>
<line x1="1740.8" y1="264.1" x2="1745.3" y2="266.3" stroke="#6e6e6e" stroke-width="0.9"/>
<polygon points="1746.3,266.9 1743.0,266.9 1744.3,264.2" fill="#6e6e6e"/>
<line x1="1737.2" y1="264.1" x2="1732.7" y2="266.3" stroke="#6e6e6e" stroke-width="0.9"/>
<polygon points="1731.7,266.9 1733.7,264.2 1735.0,266.9" fill="#6e6e6e"/>
<path d="M1739.0 268.4 Q1733.7 264.9 1734.2 260.1 Q1739.0 258.2 1743.7 260.1 Q1744.2 264.9 1739.0 268.4 Z" fill="#f07a22" stroke="#7a7a5a" stroke-width="0.6" stroke-linejoin="round"/>
<line x1="1748.0" y1="259.1" x2="1748.0" y2="263.1" stroke="#6e6e6e" stroke-width="0.9"/>
<polygon points="1748.0,264.3 1746.5,261.3 1749.5,261.3" fill="#6e6e6e"/>
<line x1="1746.7" y1="257.1" x2="1743.1" y2="255.3" stroke="#6e6e6e" stroke-width="0.9"/>
<polygon points="1742.0,254.7 1745.4,254.7 1744.1,257.4" fill="#6e6e6e"/>
<line x1="1749.3" y1="257.1" x2="1752.9" y2="255.3" stroke="#6e6e6e" stroke-width="0.9"/>
<polygon points="1753.9,254.7 1751.9,257.4 1750.6,254.7" fill="#6e6e6e"/>
<path d="M1748.0 253.9 Q1744.2 256.4 1744.6 259.9 Q1748.0 261.3 1751.4 259.9 Q1751.8 256.4 1748.0 253.9 Z" fill="#f07a22" stroke="#7a7a5a" stroke-width="0.6" stroke-linejoin="round"/>
<line x1="1683.1" y1="282.8" x2="1683.1" y2="287.2" stroke="#6e6e6e" stroke-width="0.9"/>
<polygon points="1683.1,288.4 1681.6,285.4 1684.6,285.4" fill="#6e6e6e"/>
<line x1="1681.7" y1="280.4" x2="1677.7" y2="278.4" stroke="#6e6e6e" stroke-width="0.9"/>
<polygon points="1676.6,277.9 1680.0,277.9 1678.6,280.6" fill="#6e6e6e"/>
<line x1="1684.6" y1="280.4" x2="1688.6" y2="278.4" stroke="#6e6e6e" stroke-width="0.9"/>
<polygon points="1689.7,277.9 1687.6,280.6 1686.3,277.9" fill="#6e6e6e"/>
<path d="M1683.1 276.9 Q1678.9 279.8 1679.3 283.6 Q1683.1 285.1 1686.9 283.6 Q1687.3 279.8 1683.1 276.9 Z" fill="#f07a22" stroke="#7a7a5a" stroke-width="0.6" stroke-linejoin="round"/>
<line x1="1683.1" y1="293.6" x2="1683.1" y2="298.1" stroke="#6e6e6e" stroke-width="0.9"/>
<polygon points="1683.1,299.3 1681.6,296.3 1684.6,296.3" fill="#6e6e6e"/>
<line x1="1681.4" y1="290.8" x2="1677.4" y2="288.8" stroke="#6e6e6e" stroke-width="0.9"/>
<polygon points="1676.3,288.2 1679.7,288.2 1678.3,290.9" fill="#6e6e6e"/>
<line x1="1684.8" y1="290.8" x2="1688.9" y2="288.8" stroke="#6e6e6e" stroke-width="0.9"/>
<polygon points="1689.9,288.2 1687.9,290.9 1686.6,288.2" fill="#6e6e6e"/>
<path d="M1683.1 286.6 Q1678.1 290.0 1678.6 294.6 Q1683.1 296.4 1687.7 294.6 Q1688.2 290.0 1683.1 286.6 Z" fill="#f07a22" stroke="#7a7a5a" stroke-width="0.6" stroke-linejoin="round"/>
<line x1="1722.1" y1="339.0" x2="1722.1" y2="342.0" stroke="#6e6e6e" stroke-width="0.9"/>
<polygon points="1722.1,343.2 1720.6,340.2 1723.6,340.2" fill="#6e6e6e"/>
<line x1="1720.8" y1="336.9" x2="1718.1" y2="335.6" stroke="#6e6e6e" stroke-width="0.9"/>
<polygon points="1717.0,335.0 1720.4,335.0 1719.0,337.7" fill="#6e6e6e"/>
<line x1="1723.3" y1="336.9" x2="1726.0" y2="335.6" stroke="#6e6e6e" stroke-width="0.9"/>
<polygon points="1727.1,335.0 1725.1,337.7 1723.8,335.0" fill="#6e6e6e"/>
<path d="M1722.1 333.8 Q1718.3 336.3 1718.6 339.8 Q1722.1 341.2 1725.5 339.8 Q1725.8 336.3 1722.1 333.8 Z" fill="#ffd21a" stroke="#7a7a5a" stroke-width="0.6" stroke-linejoin="round"/>
<line x1="1904.2" y1="220.4" x2="1904.2" y2="248.2" stroke="#2a9fdc" stroke-width="1.6"/>
<line x1="1904.2" y1="248.2" x2="1876.2" y2="262.2" stroke="#2a9fdc" stroke-width="1.6"/>
<line x1="1876.2" y1="262.2" x2="1848.3" y2="248.2" stroke="#2a9fdc" stroke-width="1.6"/>
<line x1="1960.0" y1="248.2" x2="1932.1" y2="262.2" stroke="#2a9fdc" stroke-width="1.6"/>
<line x1="1932.1" y1="262.2" x2="1904.2" y2="248.2" stroke="#2a9fdc" stroke-width="1.6"/>
<line x1="1876.2" y1="262.2" x2="1876.2" y2="290.1" stroke="#2a9fdc" stroke-width="1.6"/>
<line x1="1876.2" y1="290.1" x2="1848.3" y2="304.1" stroke="#2a9fdc" stroke-width="1.6"/>
<line x1="1932.1" y1="262.2" x2="1932.1" y2="290.1" stroke="#2a9fdc" stroke-width="1.6"/>
<line x1="1932.1" y1="290.1" x2="1904.2" y2="304.1" stroke="#2a9fdc" stroke-width="1.6"/>
<line x1="1904.2" y1="304.1" x2="1876.2" y2="290.1" stroke="#2a9fdc" stroke-width="1.6"/>
<line x1="1960.0" y1="304.1" x2="1932.1" y2="290.1" stroke="#2a9fdc" stroke-width="1.6"/>
<line x1="1904.2" y1="304.2" x2="1904.2" y2="332.1" stroke="#2a9fdc" stroke-width="1.6"/>
<path d="M1894.3 215.4 Q1904.2 218.9 1914.0 215.4 Q1905.4 221.1 1904.2 231.4 Q1902.9 221.1 1894.3 215.4 Z" fill="#2a9fdc"/>
<path d="M1904.2 237.2 Q1905.4 247.5 1914.0 253.2 Q1904.2 249.8 1894.3 253.2 Q1902.9 247.5 1904.2 237.2 Z" fill="#2a9fdc"/>
<path d="M1866.4 257.3 Q1876.2 260.7 1886.1 257.3 Q1877.5 263.0 1876.2 273.2 Q1875.0 263.0 1866.4 257.3 Z" fill="#2a9fdc"/>
<path d="M1848.3 237.2 Q1849.6 247.5 1858.1 253.2 Q1848.3 249.7 1838.5 253.2 Q1847.0 247.5 1848.3 237.2 Z" fill="#2a9fdc"/>
<path d="M1960.0 237.2 Q1961.3 247.5 1969.9 253.2 Q1960.0 249.7 1950.2 253.2 Q1958.7 247.5 1960.0 237.2 Z" fill="#2a9fdc"/>
<path d="M1922.2 257.3 Q1932.1 260.7 1941.9 257.3 Q1933.4 263.0 1932.1 273.2 Q1930.8 263.0 1922.2 257.3 Z" fill="#2a9fdc"/>
<path d="M1876.2 279.1 Q1877.5 289.4 1886.1 295.1 Q1876.2 291.6 1866.4 295.1 Q1875.0 289.4 1876.2 279.1 Z" fill="#2a9fdc"/>
<path d="M1838.5 299.2 Q1848.3 302.6 1858.1 299.2 Q1849.6 304.9 1848.3 315.1 Q1847.0 304.9 1838.5 299.2 Z" fill="#2a9fdc"/>
<path d="M1932.1 279.1 Q1933.4 289.4 1941.9 295.1 Q1932.1 291.6 1922.2 295.1 Q1930.8 289.4 1932.1 279.1 Z" fill="#2a9fdc"/>
<path d="M1894.3 299.2 Q1904.2 302.6 1914.0 299.2 Q1905.4 304.9 1904.2 315.1 Q1902.9 304.9 1894.3 299.2 Z" fill="#2a9fdc"/>
<path d="M1950.2 299.2 Q1960.0 302.6 1969.9 299.2 Q1961.3 304.9 1960.0 315.1 Q1958.7 304.9 1950.2 299.2 Z" fill="#2a9fdc"/>
<path d="M1904.2 321.1 Q1905.4 331.3 1914.0 337.0 Q1904.2 333.6 1894.3 337.0 Q1902.9 331.3 1904.2 321.1 Z" fill="#2a9fdc"/>
<line x1="1915.2" y1="338.9" x2="1915.2" y2="341.9" stroke="#6e6e6e" stroke-width="0.9"/>
<polygon points="1915.2,343.1 1913.7,340.1 1916.7,340.1" fill="#6e6e6e"/>
<line x1="1913.9" y1="336.9" x2="1911.3" y2="335.6" stroke="#6e6e6e" stroke-width="0.9"/>
<polygon points="1910.2,335.1 1913.5,335.1 1912.2,337.7" fill="#6e6e6e"/>
<line x1="1916.4" y1="336.9" x2="1919.1" y2="335.6" stroke="#6e6e6e" stroke-width="0.9"/>
<polygon points="1920.1,335.1 1918.1,337.7 1916.8,335.1" fill="#6e6e6e"/>
<path d="M1915.2 334.0 Q1911.6 336.4 1911.9 339.7 Q1915.2 340.9 1918.4 339.7 Q1918.7 336.4 1915.2 334.0 Z" fill="#d9d82a" stroke="#7a7a5a" stroke-width="0.6" stroke-linejoin="round"/>
<path d="M1904.5 208 C1904.2 211.3 1903.2 221.3 1903 228 C1902.8 234.7 1904.8 243.2 1903.5 248 C1902.2 252.8 1898.6 254.3 1895 257 C1891.4 259.7 1885.0 261.5 1882 264 C1879.0 266.5 1877.7 268.3 1877 272 C1876.3 275.7 1878.5 282.5 1878 286 C1877.5 289.5 1877.0 290.8 1874 293 C1871.0 295.2 1864.0 297.2 1860 299 C1856.0 300.8 1851.7 303.2 1850 304" fill="none" stroke="#a0a0a0" stroke-width="5.2" stroke-linecap="round"/>
<path d="M1904.5 208 C1904.2 211.3 1903.2 221.3 1903 228 C1902.8 234.7 1904.8 243.2 1903.5 248 C1902.2 252.8 1898.6 254.3 1895 257 C1891.4 259.7 1885.0 261.5 1882 264 C1879.0 266.5 1877.7 268.3 1877 272 C1876.3 275.7 1878.5 282.5 1878 286 C1877.5 289.5 1877.0 290.8 1874 293 C1871.0 295.2 1864.0 297.2 1860 299 C1856.0 300.8 1851.7 303.2 1850 304" fill="none" stroke="#fff" stroke-width="3.6" stroke-linecap="round"/>
<path d="M1968 221 C1967.7 223.3 1967.7 230.8 1966 235 C1964.3 239.2 1961.3 242.8 1958 246 C1954.7 249.2 1949.3 251.3 1946 254 C1942.7 256.7 1938.3 258.3 1938 262 C1937.7 265.7 1941.0 271.0 1944 276 C1947.0 281.0 1953.3 287.3 1956 292 C1958.7 296.7 1960.2 299.7 1960 304 C1959.8 308.3 1957.5 313.3 1955 318 C1952.5 322.7 1948.2 327.5 1945 332 C1941.8 336.5 1937.5 342.8 1936 345" fill="none" stroke="#a0a0a0" stroke-width="5.2" stroke-linecap="round"/>
<path d="M1968 221 C1967.7 223.3 1967.7 230.8 1966 235 C1964.3 239.2 1961.3 242.8 1958 246 C1954.7 249.2 1949.3 251.3 1946 254 C1942.7 256.7 1938.3 258.3 1938 262 C1937.7 265.7 1941.0 271.0 1944 276 C1947.0 281.0 1953.3 287.3 1956 292 C1958.7 296.7 1960.2 299.7 1960 304 C1959.8 308.3 1957.5 313.3 1955 318 C1952.5 322.7 1948.2 327.5 1945 332 C1941.8 336.5 1937.5 342.8 1936 345" fill="none" stroke="#fff" stroke-width="3.6" stroke-linecap="round"/>
<path d="M1906.5 178 C1907.5 179.7 1906.6 178.1 1909.5 183 C1912.4 187.9 1915.8 187.4 1915.3 192.7 C1914.8 198.0 1912.3 195.1 1908 199 C1903.7 202.9 1903.3 199.6 1902.3 204.4 C1901.3 209.2 1904.0 210.5 1904.9 213.5" fill="none" stroke="#e8120f" stroke-width="3.2" stroke-linecap="round"/>
<polygon points="1912.7,161 1897.1,177.1 1914.8,181.8" fill="#e8120f"/>
<path d="M1962 183 C1962.8 184.2 1961.4 181.5 1964.5 186.5 C1967.6 191.5 1971.1 192.2 1971.3 197.9 C1971.5 203.6 1968.9 200.0 1965 203.5 C1961.1 207.0 1958.3 202.4 1959.5 208.3 C1960.7 214.2 1965.6 217.0 1968.7 221.3" fill="none" stroke="#e8120f" stroke-width="3.2" stroke-linecap="round"/>
<polygon points="1957.7,169.3 1954.9,188 1973.1,181.8" fill="#e8120f"/>
<line x1="1056.4" y1="361.6" x2="1977.7" y2="361.6" stroke="#555" stroke-width="1.3"/>
<text x="1189.5" y="409" font-size="24" fill="#000" textLength="23.5" lengthAdjust="spacing">Bt</text>
<rect x="1218.9" y="397.2" width="32.3" height="6.4" fill="#c7c7c7"/>
<polygon points="1293.4,373.3 1321.4,387.1 1321.4,414.9 1293.4,428.7 1265.4,414.9 1265.4,387.1" fill="#e9ebeb" stroke="#a4a4a4" stroke-width="1.1" stroke-linejoin="round"/>
<text x="1293.9" y="409" font-size="24" fill="#000" text-anchor="middle" textLength="35.5" lengthAdjust="spacing">Cal</text>
<polygon points="1363,373.3 1391.0,387.1 1391.0,414.9 1363,428.7 1335.0,414.9 1335.0,387.1" fill="#ffffff" stroke="#a4a4a4" stroke-width="1.1" stroke-linejoin="round"/>
<text x="1363.5" y="409" font-size="24" fill="#000" text-anchor="middle" textLength="31" lengthAdjust="spacing">Qz</text>
<polygon points="1494.7,373.3 1522.7,387.1 1522.7,414.9 1494.7,428.7 1466.7,414.9 1466.7,387.1" fill="#d6dcc9" stroke="#a4a4a4" stroke-width="1.1" stroke-linejoin="round"/>
<text x="1495.2" y="409" font-size="24" fill="#000" text-anchor="middle" textLength="42.5" lengthAdjust="spacing">Cpx</text>
<polygon points="1571.8,373.3 1599.8,387.1 1599.8,414.9 1571.8,428.7 1543.8,414.9 1543.8,387.1" fill="#f9d4c6" stroke="#a4a4a4" stroke-width="1.1" stroke-linejoin="round"/>
<text x="1572.3" y="409" font-size="24" fill="#000" text-anchor="middle" textLength="36" lengthAdjust="spacing">Kfs</text>
<g stroke="#a8a8b0" stroke-width="1.2"><line x1="1673.2" y1="405.7" x2="1673.2" y2="381.6"/><line x1="1673.2" y1="405.7" x2="1651.6" y2="417"/><line x1="1673.2" y1="405.7" x2="1694" y2="417"/></g>
<path d="M1673.2 393.2 Q1680.5 396 1683.4 410.8 Q1673.2 415.5 1663 410.8 Q1665.9 396 1673.2 393.2 Z" fill="url(#gf)"/>
<text x="1691.1" y="395.7" font-size="19.4" fill="#000" textLength="79.2" lengthAdjust="spacing">CO<tspan font-size="9.3" dy="4.3">2</tspan><tspan dy="-4.3">-rich</tspan></text>
<text x="1706.4" y="417.3" font-size="19.4" fill="#000" textLength="49" lengthAdjust="spacing">fluids</text>
<g stroke="#9fb4c4" stroke-width="1"><line x1="1827.6" y1="404.9" x2="1827.6" y2="384.1"/><line x1="1827.6" y1="404.9" x2="1803.5" y2="418.6"/><line x1="1827.6" y1="404.9" x2="1854.1" y2="419.3"/></g>
<path d="M1827.6 389 Q1827.9 404.3 1845 414.6 Q1827.6 405.6 1811 414.2 Q1827.3 404.3 1827.6 389 Z" fill="#2a9fdc"/>
<text x="1844.5" y="396.6" font-size="19.4" fill="#000" textLength="110.4" lengthAdjust="spacing">hydrosaline</text>
<text x="1876.6" y="416.5" font-size="19.4" fill="#000" textLength="46.4" lengthAdjust="spacing">brine</text>
<rect x="1067.3" y="460.3" width="901.1" height="84.5" rx="9.5" fill="#fefcd3" stroke="#000" stroke-width="1.5" stroke-dasharray="11.5 4.5"/>
<text x="1086.2" y="510" font-size="33.2" fill="#000" textLength="204" lengthAdjust="spacing">Bt + Cal + Qz</text>
<path d="M1308.3 498.1 H1369.5 M1359 491.2 Q1362.5 496.3 1370.5 498.1 Q1362.5 499.9 1359 505" fill="none" stroke="#000" stroke-width="2.3"/>
<text x="1385.9" y="510" font-size="33.2" fill="#000" textLength="178.4" lengthAdjust="spacing">Cpx + Kfs +</text>
<text x="1578.2" y="496.6" font-size="32.8" fill="#000" textLength="133.7" lengthAdjust="spacing">CO<tspan font-size="15.7" dy="7.2">2</tspan><tspan dy="-7.2">-rich</tspan></text>
<text x="1644.8" y="528" font-size="32.8" fill="#000" text-anchor="middle" textLength="83" lengthAdjust="spacing">fluids</text>
<text x="1726" y="510" font-size="33.2" fill="#000">+</text>
<text x="1763.1" y="496.6" font-size="32.8" fill="#000" textLength="184.9" lengthAdjust="spacing">hydrosaline</text>
<text x="1855" y="528" font-size="32.8" fill="#000" text-anchor="middle" textLength="80" lengthAdjust="spacing">brine</text>
</g>
<g id="panelBmap">
<rect x="18.6" y="613.7" width="2010.7" height="558.6" fill="#fff" stroke="#000" stroke-width="2.4"/>
<text x="45.4" y="663.6" font-size="50.6" fill="#000">b</text>
<clipPath id="mapclip"><rect x="48.2" y="681.5" width="451.5" height="461.9"/></clipPath>
<rect x="48.2" y="681.5" width="451.5" height="461.9" fill="#ffb54f"/>
<g clip-path="url(#mapclip)">
<path d="M48.2 900.3 C52.6 900.3 78.2 899.3 86 900 C93.8 900.7 108.3 904.2 115 906.5 C121.7 908.8 138.1 918.8 143.3 919.8 C148.5 920.8 155.3 914.9 159.3 914.8 C163.3 914.7 173.1 916.5 177.7 918.7 C182.3 920.9 194.7 928.9 198.4 933.6 C202.1 938.3 206.6 953.3 209.8 958.9 C213.0 964.5 221.6 974.3 225.9 981.8 C230.2 989.3 241.5 1015.5 246.6 1023 C251.7 1030.5 264.4 1040.1 269.5 1046 C274.6 1051.9 284.8 1067.7 290.2 1073.6 C295.6 1079.5 310.8 1091.0 315.4 1096.6 C319.9 1102.2 326.2 1116.3 329.2 1121.8 C332.2 1127.3 339.6 1141.4 341 1144 L48.2 1144 Z" fill="#96c54c"/>
<path d="M200.7 681 L267.2 681 L275.3 746.9 L300.5 845.6 L294.8 845 L285.6 853.6 L282.1 858.2 L291.3 890 L313.1 946.2 L304 936.5 L289 950.8 L291 954 L308.5 991 L316.6 1004.8 L315.4 1031.2 L281 1036.9 L255.7 1032.3 L244 1005 L228.2 974.9 L219.8 941 L230.5 934.8 L216.7 890 L209.5 850 L208.7 835.3 L223.6 834 L227.1 831.8 Z" fill="#cbd5e0"/>
<line x1="48.2" y1="857" x2="499.7" y2="768.7" stroke="#000" stroke-width="1.8" stroke-dasharray="13.5 7"/>
<path d="M217.9 682.6 L261.5 910 L269.5 958.9 L283.3 1027.7 L292.5 1073.6 L301.6 1119.5" fill="none" stroke="#000" stroke-width="1.8" stroke-dasharray="19 9"/>
<g stroke="#000" stroke-width="4.7" fill="none" stroke-linecap="butt" stroke-linejoin="round">
<path d="M200.7 681 L227.1 831.8" fill="none"/>
<path d="M267.2 681 L275.3 746.9 L300.5 845.6" fill="none"/>
<path d="M203 820.3 L230.5 934.8" fill="none"/>
<path d="M273 833 L313.1 946.2" fill="none"/>
<path d="M219 939.3 L231.6 978.4 L245.4 1051.8" fill="none"/>
<path d="M228.2 974.9 L258 1034.6" fill="none"/>
<path d="M277.6 939.3 L308.5 991 L324.6 1011.6" fill="none"/>
<path d="M318.9 1002 L321.2 1041.5" fill="none"/>
<path d="M270.7 1026.6 L286.7 1080.5" fill="none"/>
<path d="M295.9 1047.2 L318.9 1140.2" fill="none" stroke-dasharray="21 7"/>
<path d="M329.2 1033.4 L346.4 1087.4" fill="none" stroke-dasharray="21 7"/>
<path d="M343 1105.7 L364.8 1102.3" fill="none"/>
<path d="M281 1089.7 L269.5 1108" fill="none"/>
</g>
<circle cx="160" cy="715.2" r="12.4" fill="#ee82b4" stroke="#2a1a20" stroke-width="1.8"/>
<circle cx="186.9" cy="785.4" r="12.4" fill="#ee82b4" stroke="#2a1a20" stroke-width="1.8"/>
<circle cx="301.6" cy="755.4" r="12.4" fill="#ee82b4" stroke="#2a1a20" stroke-width="1.8"/>
<circle cx="352" cy="794" r="12.4" fill="#ee82b4" stroke="#2a1a20" stroke-width="1.8"/>
<circle cx="302.8" cy="876.6" r="12.4" fill="#ee82b4" stroke="#2a1a20" stroke-width="1.8"/>
<circle cx="207.1" cy="923.3" r="12.4" fill="#ee82b4" stroke="#2a1a20" stroke-width="1.8"/>
<circle cx="326.9" cy="1053.4" r="12.4" fill="#ee82b4" stroke="#2a1a20" stroke-width="1.8"/>
<circle cx="138.7" cy="851.8" r="12.4" fill="#1458a6" stroke="#141c2c" stroke-width="1.8"/>
<circle cx="326.9" cy="894.2" r="12.4" fill="#1458a6" stroke="#141c2c" stroke-width="1.8"/>
<circle cx="175" cy="939.3" r="12.4" fill="#1458a6" stroke="#141c2c" stroke-width="1.8"/>
<circle cx="321.8" cy="991" r="12.4" fill="#1458a6" stroke="#141c2c" stroke-width="1.8"/>
<circle cx="240.1" cy="1076.4" r="12.4" fill="#1458a6" stroke="#141c2c" stroke-width="1.8"/>
<circle cx="305.1" cy="1093.1" r="12.4" fill="#1458a6" stroke="#141c2c" stroke-width="1.8"/>
<circle cx="263.1" cy="1118.8" r="12.4" fill="#1458a6" stroke="#141c2c" stroke-width="1.8"/>
<circle cx="341.1" cy="1125.9" r="12.4" fill="#1458a6" stroke="#141c2c" stroke-width="1.8"/>
</g>
<rect x="48.2" y="681.5" width="451.5" height="461.9" fill="none" stroke="#000" stroke-width="2.5"/>
<text x="228.2" y="706.3" font-size="23.5" fill="#000">B</text>
<text x="57.2" y="844.4" font-size="24.6" fill="#000">A</text>
<text x="474.5" y="764.6" font-size="24.6" fill="#000" textLength="21.5" lengthAdjust="spacing">A’</text>
<text x="279.8" y="1134.4" font-size="24.6" fill="#000" textLength="22" lengthAdjust="spacing">B’</text>
<text font-size="26.3" textLength="47" lengthAdjust="spacing" transform="translate(245.6,744) rotate(81)">Rift</text>
<text font-size="26.3" textLength="47" lengthAdjust="spacing" transform="translate(237,941.5) rotate(80)">Rift</text>
<text x="325.3" y="933.6" font-size="26.3" fill="#000" textLength="163.4" lengthAdjust="spacing">Non-cratonic</text>
<text x="325.3" y="963.4" font-size="26.3" fill="#000" textLength="141.6" lengthAdjust="spacing">lithosphere</text>
<text x="67.5" y="1049.5" font-size="26.3" fill="#000" textLength="107.9" lengthAdjust="spacing">Cratonic</text>
<text x="67.5" y="1079.3" font-size="26.3" fill="#000" textLength="142.3" lengthAdjust="spacing">lithosphere</text>
</g>
<g id="panelBaa">
<rect x="522.0" y="700" width="726.4000000000001" height="442.5" fill="#ffedd8"/>
<path d="M522 700 L522.0 905.7 L640.0 905.5 L678.2 904.7 C680.9 903.8 684.0 902.4 691.7 900.2 C699.3 897.9 706.5 896.4 716.4 893.4 C726.3 890.5 731.2 888.9 741.1 885.6 C751.0 882.2 756.8 880.9 765.8 876.6 C774.8 872.3 777.9 868.5 786.0 864.2 C794.1 860.0 798.1 858.4 806.2 855.2 C814.3 852.1 822.8 853.5 826.4 848.5 C830.0 843.6 825.5 835.3 824.2 830.5 C822.8 825.8 818.3 827.2 819.7 824.9 C821.0 822.7 826.4 822.9 830.9 819.3 C835.4 815.7 837.9 810.9 842.2 807.0 C846.4 803.0 845.1 801.2 852.3 799.8 C859.5 798.3 871.8 798.3 878.1 799.8 C884.4 801.2 880.6 803.3 883.7 807.0 C886.9 810.6 889.6 814.6 893.8 818.2 C898.1 821.8 900.6 822.2 905.0 824.9 C909.5 827.6 916.3 828.9 916.3 831.7 C916.3 834.4 902.4 835.7 905.0 838.8 C907.7 842.0 917.6 841.6 929.8 847.4 C941.9 853.1 953.6 861.3 965.7 867.6 C977.8 873.9 980.1 874.3 990.4 878.8 C1000.7 883.3 1008.4 887.5 1017.4 890.1 C1026.3 892.7 1028.6 892.8 1035.3 891.9 C1042.1 891.0 1042.5 887.5 1051.1 885.6 C1059.6 883.6 1068.2 883.1 1078.0 882.2 C1087.8 881.3 1095.6 881.3 1100.0 881.1 L1180 881.5 L1248.4 882.3 L1248.4 700 Z" fill="#ffcc7d"/>
<path d="M679.3 892.3 C679.7 889.0 690.0 882.7 698.4 878.8 C706.8 874.9 718.4 873.2 725.4 871.0 C732.4 868.7 738.0 868.3 736.6 866.5 C735.1 864.6 717.1 862.9 717.5 860.9 C717.9 858.8 733.9 857.0 738.8 855.2 C743.8 853.5 747.1 852.9 744.4 851.4 C741.8 850.0 724.8 849.0 724.2 847.4 C723.6 845.8 737.2 844.5 741.1 842.9 C745.0 841.3 748.5 840.2 745.6 838.8 C742.6 837.5 726.1 837.2 724.9 835.7 C723.7 834.2 735.4 832.2 738.8 830.5 C742.3 828.9 745.9 828.2 743.8 826.7 C741.6 825.3 726.4 824.0 727.2 822.7 C727.9 821.3 738.3 820.1 747.8 819.3 C757.4 818.5 766.9 817.9 779.3 818.2 C791.6 818.5 810.5 819.7 815.2 820.9 C819.9 822.0 803.4 822.8 805.1 824.5 C806.8 826.1 823.6 828.1 824.6 829.9 C825.7 831.6 814.3 832.3 810.7 833.9 C807.1 835.6 803.9 837.0 805.1 838.8 C806.3 840.7 813.3 842.5 817.4 844.0 C821.6 845.6 829.6 845.3 827.6 847.4 C825.5 849.4 813.8 852.2 806.2 855.2 C798.6 858.3 793.4 860.3 786.0 864.2 C778.6 868.1 774.0 872.7 765.8 876.6 C757.6 880.5 750.1 882.4 741.1 885.6 C732.0 888.8 724.6 892.0 716.4 894.1 C708.1 896.2 702.9 897.1 696.2 896.8 C689.4 896.5 678.9 895.6 679.3 892.3 Z" fill="#de76b5"/>
<path d="M912.9 813.7 C916.0 812.0 931.5 810.7 943.2 810.3 C955.0 809.9 966.0 810.6 976.9 811.4 C987.8 812.3 1000.9 813.2 1002.8 814.8 C1004.6 816.5 986.8 818.0 987.0 820.4 C987.2 822.9 1003.7 825.8 1003.9 828.3 C1004.1 830.8 988.0 831.6 988.2 833.9 C988.4 836.2 1004.2 838.4 1005.0 840.6 C1005.8 842.9 991.6 844.0 992.7 846.3 C993.7 848.5 1010.6 850.7 1010.6 853.0 C1010.6 855.3 993.1 856.8 992.7 859.1 C992.2 861.3 1001.4 863.0 1008.4 865.4 C1015.4 867.7 1024.2 869.6 1030.8 872.1 C1037.4 874.6 1040.8 876.4 1044.3 878.8 C1047.8 881.2 1051.6 882.7 1049.9 885.1 C1048.3 887.5 1041.3 891.0 1035.3 891.9 C1029.4 892.8 1025.6 892.5 1017.4 890.1 C1009.1 887.7 999.9 882.9 990.4 878.8 C980.9 874.7 976.8 873.4 965.7 867.6 C954.6 861.8 941.5 852.5 929.8 847.4 C918.0 842.2 903.3 842.2 901.7 839.5 C900.0 836.8 919.9 835.3 920.8 832.8 C921.6 830.3 905.1 828.5 906.2 826.0 C907.2 823.6 925.2 821.6 926.4 819.3 C927.6 817.0 909.8 815.3 912.9 813.7 Z" fill="#de76b5"/>
<path d="M522 681.6 L790.2 681.6 L799.5 689.4 L808.7 690.3 L814.3 700 L924 700 L929.4 692.2 L940.5 690.9 L948 682.5 L1248.4 682.5 L1248.4 748.5 L953.4 751.4 C940 747 925 737.3 905 737.3 L810.6 737.5 L781 754.3 L522 754.3 Z" fill="#7a1a0e" stroke="#1c1210" stroke-width="1.2"/>
<path d="M809.7 692.2 L929.4 692.2 L924 700.2 L814.3 700.2 Z" fill="#8ec549"/>
<rect x="704.8" y="675.0" width="7.4" height="209.0" fill="#fb0808"/>
<rect x="771.7" y="675.0" width="7.4" height="170.0" fill="#fb0808"/>
<rect x="836.6" y="699.0" width="7.4" height="100.0" fill="#fb0808"/>
<rect x="892.3" y="699.0" width="7.4" height="100.0" fill="#fb0808"/>
<rect x="969.3" y="675.0" width="7.4" height="171.0" fill="#fb0808"/>
<rect x="1020.9" y="675.0" width="7.4" height="204.0" fill="#fb0808"/>
<ellipse cx="708.5" cy="896.4" rx="7.9" ry="14.6" fill="#fb0808" stroke="#fff" stroke-width="1.6"/>
<ellipse cx="775.9" cy="857.5" rx="7.9" ry="14.6" fill="#fb0808" stroke="#fff" stroke-width="1.6"/>
<ellipse cx="839.5" cy="811.9" rx="7.9" ry="14.6" fill="#fb0808" stroke="#fff" stroke-width="1.6"/>
<ellipse cx="896" cy="811.9" rx="7.9" ry="14.6" fill="#fb0808" stroke="#fff" stroke-width="1.6"/>
<ellipse cx="974" cy="859" rx="7.9" ry="14.6" fill="#fb0808" stroke="#fff" stroke-width="1.6"/>
<ellipse cx="1025.2" cy="891.9" rx="7.9" ry="14.6" fill="#fb0808" stroke="#fff" stroke-width="1.6"/>
<path d="M710.0 667.2 C710.0 664.6 712.6 662.7 712.9 660.0 C713.2 657.3 713.4 658.9 711.2 657.1 C709.0 655.3 705.6 654.9 704.5 653.3 C703.4 651.7 705.0 652.4 707.0 651.2 C709.0 650.0 708.7 649.6 712.1 648.7 C715.5 647.8 715.4 648.2 719.6 647.9 C723.8 647.6 723.9 647.4 728.0 647.4 C732.1 647.4 734.1 646.9 734.8 647.9 C735.5 648.9 731.9 649.5 730.6 651.2 C729.3 652.9 728.7 653.0 730.1 654.2 C731.5 655.4 735.2 655.1 736.0 655.8 C736.8 656.5 735.2 656.6 733.1 656.9 C731.0 657.2 730.1 656.1 728.0 657.1 C725.9 658.1 726.5 658.3 725.1 660.5 C723.7 662.7 724.1 663.0 722.6 665.5 C721.1 668.0 721.5 668.1 719.6 669.7 C717.7 671.3 717.2 671.4 715.4 671.4 C713.6 671.4 714.3 670.8 712.9 669.7 C711.5 668.6 710.0 669.8 710.0 667.2 Z" fill="#c9c9c9"/>
<path d="M701.7 682 L704.7 669.3 L712.3 669.3 L715.3 682 Z" fill="#1268b8"/>
<path d="M776.9 667.2 C776.9 664.6 779.5 662.7 779.8 660.0 C780.1 657.3 780.3 658.9 778.1 657.1 C775.9 655.3 772.5 654.9 771.4 653.3 C770.3 651.7 771.9 652.4 773.9 651.2 C775.9 650.0 775.6 649.6 779.0 648.7 C782.4 647.8 782.3 648.2 786.5 647.9 C790.7 647.6 790.8 647.4 794.9 647.4 C799.0 647.4 801.0 646.9 801.7 647.9 C802.4 648.9 798.8 649.5 797.5 651.2 C796.2 652.9 795.6 653.0 797.0 654.2 C798.4 655.4 802.1 655.1 802.9 655.8 C803.7 656.5 802.1 656.6 800.0 656.9 C797.9 657.2 797.0 656.1 794.9 657.1 C792.8 658.1 793.4 658.3 792.0 660.5 C790.6 662.7 791.0 663.0 789.5 665.5 C788.0 668.0 788.4 668.1 786.5 669.7 C784.6 671.3 784.1 671.4 782.3 671.4 C780.5 671.4 781.2 670.8 779.8 669.7 C778.4 668.6 776.9 669.8 776.9 667.2 Z" fill="#c9c9c9"/>
<path d="M768.6 682 L771.6 669.3 L779.2 669.3 L782.2 682 Z" fill="#de76b5"/>
<path d="M974.5 667.2 C974.5 664.6 977.1 662.7 977.4 660.0 C977.7 657.3 977.9 658.9 975.7 657.1 C973.5 655.3 970.1 654.9 969.0 653.3 C967.9 651.7 969.5 652.4 971.5 651.2 C973.5 650.0 973.2 649.6 976.6 648.7 C980.0 647.8 979.9 648.2 984.1 647.9 C988.3 647.6 988.4 647.4 992.5 647.4 C996.6 647.4 998.6 646.9 999.3 647.9 C1000.0 648.9 996.4 649.5 995.1 651.2 C993.8 652.9 993.2 653.0 994.6 654.2 C996.0 655.4 999.7 655.1 1000.5 655.8 C1001.3 656.5 999.7 656.6 997.6 656.9 C995.5 657.2 994.6 656.1 992.5 657.1 C990.4 658.1 991.0 658.3 989.6 660.5 C988.2 662.7 988.6 663.0 987.1 665.5 C985.6 668.0 986.0 668.1 984.1 669.7 C982.2 671.3 981.7 671.4 979.9 671.4 C978.1 671.4 978.8 670.8 977.4 669.7 C976.0 668.6 974.5 669.8 974.5 667.2 Z" fill="#c9c9c9"/>
<path d="M966.2 682 L969.2 669.3 L976.8 669.3 L979.8 682 Z" fill="#de76b5"/>
<path d="M1026.1 667.2 C1026.1 664.6 1028.7 662.7 1029.0 660.0 C1029.3 657.3 1029.5 658.9 1027.3 657.1 C1025.1 655.3 1021.7 654.9 1020.6 653.3 C1019.5 651.7 1021.1 652.4 1023.1 651.2 C1025.1 650.0 1024.8 649.6 1028.2 648.7 C1031.6 647.8 1031.5 648.2 1035.7 647.9 C1039.9 647.6 1040.0 647.4 1044.1 647.4 C1048.2 647.4 1050.2 646.9 1050.9 647.9 C1051.6 648.9 1048.0 649.5 1046.7 651.2 C1045.4 652.9 1044.8 653.0 1046.2 654.2 C1047.6 655.4 1051.3 655.1 1052.1 655.8 C1052.9 656.5 1051.3 656.6 1049.2 656.9 C1047.1 657.2 1046.2 656.1 1044.1 657.1 C1042.0 658.1 1042.6 658.3 1041.2 660.5 C1039.8 662.7 1040.2 663.0 1038.7 665.5 C1037.2 668.0 1037.6 668.1 1035.7 669.7 C1033.8 671.3 1033.3 671.4 1031.5 671.4 C1029.7 671.4 1030.4 670.8 1029.0 669.7 C1027.6 668.6 1026.1 669.8 1026.1 667.2 Z" fill="#c9c9c9"/>
<path d="M1017.8 682 L1020.8 669.3 L1028.4 669.3 L1031.4 682 Z" fill="#1268b8"/>
<path d="M841.8 679.2 C841.8 676.6 844.4 674.7 844.7 672.0 C845.0 669.3 845.2 670.9 843.0 669.1 C840.8 667.3 837.4 666.9 836.3 665.3 C835.2 663.7 836.8 664.4 838.8 663.2 C840.8 662.0 840.5 661.6 843.9 660.7 C847.3 659.8 847.2 660.2 851.4 659.9 C855.6 659.6 855.7 659.4 859.8 659.4 C863.9 659.4 865.9 658.9 866.6 659.9 C867.3 660.9 863.7 661.5 862.4 663.2 C861.1 664.9 860.5 665.0 861.9 666.2 C863.3 667.4 867.0 667.1 867.8 667.8 C868.6 668.5 867.0 668.6 864.9 668.9 C862.8 669.2 861.9 668.1 859.8 669.1 C857.7 670.1 858.3 670.3 856.9 672.5 C855.5 674.7 855.9 675.0 854.4 677.5 C852.9 680.0 853.3 680.1 851.4 681.7 C849.5 683.3 849.0 683.4 847.2 683.4 C845.4 683.4 846.1 682.8 844.7 681.7 C843.3 680.6 841.8 681.8 841.8 679.2 Z" fill="#c9c9c9"/>
<path d="M832.0 692.6 L836.0 680.8 L844.5 680.8 L848.5 692.6 Z" fill="#8ec549"/>
<path d="M897.5 679.2 C897.5 676.6 900.1 674.7 900.4 672.0 C900.7 669.3 900.9 670.9 898.7 669.1 C896.5 667.3 893.1 666.9 892.0 665.3 C890.9 663.7 892.5 664.4 894.5 663.2 C896.5 662.0 896.2 661.6 899.6 660.7 C903.0 659.8 902.9 660.2 907.1 659.9 C911.3 659.6 911.4 659.4 915.5 659.4 C919.6 659.4 921.6 658.9 922.3 659.9 C923.0 660.9 919.4 661.5 918.1 663.2 C916.8 664.9 916.2 665.0 917.6 666.2 C919.0 667.4 922.7 667.1 923.5 667.8 C924.3 668.5 922.7 668.6 920.6 668.9 C918.5 669.2 917.6 668.1 915.5 669.1 C913.4 670.1 914.0 670.3 912.6 672.5 C911.2 674.7 911.6 675.0 910.1 677.5 C908.6 680.0 909.0 680.1 907.1 681.7 C905.2 683.3 904.7 683.4 902.9 683.4 C901.1 683.4 901.8 682.8 900.4 681.7 C899.0 680.6 897.5 681.8 897.5 679.2 Z" fill="#c9c9c9"/>
<path d="M887.8 692.6 L891.8 680.8 L900.2 680.8 L904.2 692.6 Z" fill="#8ec549"/>
<path d="M522 681.6 L522 1142.5 L1248.4 1142.5 L1248.4 682.5" fill="none" stroke="#1c1210" stroke-width="1.6"/>
<text x="533.8" y="663.8" font-size="24.6" fill="#000">A</text>
<text x="1216.9" y="663.8" font-size="24.6" fill="#000" textLength="22" lengthAdjust="spacing">A’</text>
<text x="832.1" y="650.4" font-size="26.3" fill="#000" textLength="93.5" lengthAdjust="spacing">Basalts</text>
<text x="583.5" y="727.6" font-size="26.3" fill="#fff" textLength="68.6" lengthAdjust="spacing">Crust</text>
<text x="1036.2" y="809.2" font-size="26.3" fill="#000" textLength="201.8" lengthAdjust="spacing">Sub-continental</text>
<text x="1062.9" y="838.9" font-size="26.3" fill="#000" textLength="149.5" lengthAdjust="spacing">lithospheric</text>
<text x="1094.4" y="867.9" font-size="26.3" fill="#000" textLength="85.4" lengthAdjust="spacing">mantle</text>
<text x="786.4" y="890.9" font-size="26.3" fill="#000" textLength="175.6" lengthAdjust="spacing">Melilitites and</text>
<text x="796.5" y="919.8" font-size="26.3" fill="#000" textLength="155.1" lengthAdjust="spacing">nephelinites</text>
<text x="599.1" y="939.1" font-size="26.3" fill="#000" textLength="163.2" lengthAdjust="spacing">Carbonatites</text>
<text x="1006.5" y="935.4" font-size="26.3" fill="#000" textLength="163.2" lengthAdjust="spacing">Carbonatites</text>
<text x="767" y="1066" font-size="26.3" fill="#000" textLength="236" lengthAdjust="spacing">Convecting mantle</text>
</g>
<g id="panelBbb">
<rect x="1277.4" y="700" width="726.3999999999999" height="442.5" fill="#ffedd8"/>
<path d="M1277.4 720 L1277.4 818.7 C1291.5 818.9 1320.2 819.7 1348 819.7 C1375.8 819.7 1391.1 818.3 1416.5 818.7 C1441.9 819.1 1453.5 820.6 1475 821.6 C1496.5 822.6 1507.2 823.6 1524 823.6 C1540.8 823.6 1541.4 822.6 1559 821.6 C1576.6 820.6 1595.4 817.9 1611.8 818.7 C1628.2 819.5 1630.2 823.2 1641 825.5 C1651.8 827.8 1656.0 825.6 1665.8 830.2 C1675.6 834.8 1680.9 839.9 1690 848.4 C1699.1 856.9 1703.3 864.0 1711.2 872.5 C1719.1 881.0 1724.3 886.8 1729.3 890.7 C1734.3 894.6 1734.7 891.7 1736 892 L1745 760 L1745 720 Z" fill="#ffcc7d"/>
<path d="M1719 740 C1719.0 744.5 1718.6 739.9 1719 746.4 C1719.4 752.9 1719.6 764.0 1721 776.7 C1722.4 789.4 1723.8 797.3 1726 810 C1728.2 822.7 1730.2 826.9 1731.8 840 C1733.4 853.1 1734.3 865.5 1733.8 875.6 C1733.3 885.7 1730.2 887.7 1729.3 890.7 L1747.4 930.0 L1762.5 945.1 L1777.7 969.3 L1798.8 984.4 L1817.0 1008.6 L1832.1 1023.7 L1848.7 1043.3 L1854.7 1056.3 L1862.3 1066.0 L1886.5 1084.2 L1917 1092 L1947 1092.6 L2003.8 1092.6 L2003.8 740 Z" fill="#94ce4c"/>
<path d="M1729.3 881.6 C1730.9 878.6 1732.5 877.9 1741.4 877.1 C1750.2 876.3 1765.5 875.4 1777.7 877.1 C1789.8 878.7 1804.6 883.7 1807.9 886.2 C1811.2 888.6 1795.5 887.1 1795.8 890.7 C1796.1 894.3 1809.7 901.9 1809.4 905.8 C1809.1 909.7 1794.0 907.7 1794.3 911.9 C1794.6 916.0 1810.6 924.6 1810.9 928.5 C1811.2 932.4 1794.7 929.4 1795.8 933.0 C1796.9 936.6 1816.1 943.1 1817.0 948.1 C1817.8 953.1 1799.2 956.1 1800.3 960.2 C1801.4 964.4 1815.5 965.8 1823.0 970.8 C1830.5 975.8 1835.3 980.5 1841.1 987.4 C1847.0 994.4 1852.0 999.2 1854.7 1008.6 C1857.5 1018.0 1856.3 1029.9 1856.3 1038.8 C1856.3 1047.7 1857.0 1055.3 1854.7 1057.0 C1852.5 1058.6 1849.4 1053.4 1844.2 1047.9 C1838.9 1042.3 1832.1 1033.4 1826.0 1026.7 C1819.9 1020.1 1817.0 1018.8 1810.9 1011.6 C1804.8 1004.4 1800.0 994.6 1792.8 987.4 C1785.6 980.2 1778.3 979.5 1771.6 972.3 C1765.0 965.1 1762.0 955.3 1756.5 948.1 C1751.0 940.9 1748.0 936.6 1741.4 933.0 C1734.7 929.4 1722.4 931.0 1720.2 928.5 C1718.0 926.0 1726.8 924.1 1729.3 919.4 C1731.8 914.7 1735.2 906.7 1733.8 902.8 C1732.4 898.9 1722.0 899.9 1721.7 898.2 C1721.5 896.6 1730.9 896.8 1732.3 893.7 C1733.7 890.7 1727.6 884.7 1729.3 881.6 Z" fill="#de76b5"/>
<path d="M1903.1 989.8 C1902.9 990.7 1910.9 996.3 1910.7 999.5 C1910.4 1002.8 1901.8 1008.9 1901.6 1011.6 C1901.4 1014.3 1909.4 1014.9 1909.2 1017.7 C1908.9 1020.4 1900.3 1027.0 1900.1 1029.7 C1899.9 1032.5 1907.9 1033.3 1907.6 1035.8 C1907.4 1038.3 1898.7 1044.1 1898.6 1046.4 C1898.5 1048.6 1907.7 1048.9 1907.0 1050.9 C1906.4 1052.9 1894.4 1057.7 1894.0 1060.0 C1893.7 1062.2 1905.3 1063.8 1904.6 1066.0 C1903.9 1068.3 1890.0 1073.1 1889.5 1075.1 C1889.1 1077.1 1902.3 1078.0 1901.6 1079.6 C1900.9 1081.2 1885.4 1083.9 1885.0 1085.7 C1884.5 1087.5 1893.7 1089.2 1898.6 1091.7 C1903.5 1094.2 1912.6 1101.4 1917.6 1102.3 C1922.6 1103.2 1927.2 1099.4 1931.8 1097.8 C1936.5 1096.2 1948.2 1093.8 1948.5 1091.7 C1948.7 1089.7 1934.9 1086.9 1933.3 1084.2 C1931.8 1081.4 1938.6 1075.8 1937.9 1073.6 C1937.2 1071.3 1929.0 1071.1 1928.8 1069.0 C1928.6 1067.0 1936.6 1062.2 1936.4 1060.0 C1936.1 1057.7 1927.5 1056.2 1927.3 1053.9 C1927.1 1051.7 1935.1 1046.9 1934.8 1044.9 C1934.6 1042.8 1926.1 1042.1 1925.8 1040.3 C1925.4 1038.5 1932.5 1034.8 1932.4 1032.8 C1932.3 1030.7 1925.4 1029.0 1925.2 1026.7 C1925.0 1024.5 1931.4 1019.9 1931.2 1017.7 C1931.1 1015.4 1924.4 1013.4 1924.3 1011.6 C1924.1 1009.8 1930.8 1007.4 1930.3 1005.6 C1929.9 1003.7 1924.0 1001.3 1921.2 999.5 C1918.5 997.7 1914.9 994.9 1912.2 993.5 C1909.5 992.0 1903.3 988.9 1903.1 989.8 Z" fill="#de76b5"/>
<path d="M1277.4 690.4 L1621.6 690.4 L1633 697.8 L1277.4 697.8 Z" fill="#8ec549"/>
<path d="M1277.4 697.6 L1699.6 697.6 L1711.3 680 L1724 680 L1731.8 686.3 L1745.5 686.3 L1755.2 682.4 L2003.8 682.4 L2003.8 750.7 L1733.75 750.7 L1700.5 735 L1277.4 734.4 Z" fill="#7a1a0e" stroke="#1c1210" stroke-width="1.2"/>
<rect x="1440.3" y="690.0" width="7" height="122.0" fill="#fb0808"/>
<rect x="1580.4" y="690.0" width="7" height="122.0" fill="#fb0808"/>
<rect x="1734.6" y="680.0" width="7.2" height="206.0" fill="#fb0808"/>
<rect x="1777.0" y="675.0" width="7.2" height="264.0" fill="#fb0808"/>
<rect x="1913.7" y="675.0" width="7.2" height="394.0" fill="#fb0808"/>
<ellipse cx="1445.2" cy="819.1" rx="21.5" ry="6.8" fill="#fb0808" stroke="#fff" stroke-width="1.6"/>
<ellipse cx="1584.5" cy="817.9" rx="21.5" ry="6.8" fill="#fb0808" stroke="#fff" stroke-width="1.6"/>
<ellipse cx="1737.8" cy="905.8" rx="6.7" ry="21.8" fill="#fb0808" stroke="#fff" stroke-width="1.6"/>
<ellipse cx="1779.8" cy="958.7" rx="6.7" ry="21.8" fill="#fb0808" stroke="#fff" stroke-width="1.6"/>
<ellipse cx="1917.6" cy="1088.7" rx="6.7" ry="21" fill="#fb0808" stroke="#fff" stroke-width="1.6"/>
<path d="M1445.3 679.2 C1445.3 676.6 1447.9 674.7 1448.2 672.0 C1448.5 669.3 1448.7 670.9 1446.5 669.1 C1444.3 667.3 1440.9 666.9 1439.8 665.3 C1438.7 663.7 1440.3 664.4 1442.3 663.2 C1444.3 662.0 1444.0 661.6 1447.4 660.7 C1450.8 659.8 1450.7 660.2 1454.9 659.9 C1459.1 659.6 1459.2 659.4 1463.3 659.4 C1467.4 659.4 1469.4 658.9 1470.1 659.9 C1470.8 660.9 1467.2 661.5 1465.9 663.2 C1464.6 664.9 1464.0 665.0 1465.4 666.2 C1466.8 667.4 1470.5 667.1 1471.3 667.8 C1472.1 668.5 1470.5 668.6 1468.4 668.9 C1466.3 669.2 1465.4 668.1 1463.3 669.1 C1461.2 670.1 1461.8 670.3 1460.4 672.5 C1459.0 674.7 1459.4 675.0 1457.9 677.5 C1456.4 680.0 1456.8 680.1 1454.9 681.7 C1453.0 683.3 1452.5 683.4 1450.7 683.4 C1448.9 683.4 1449.6 682.8 1448.2 681.7 C1446.8 680.6 1445.3 681.8 1445.3 679.2 Z" fill="#c9c9c9"/>
<path d="M1436.3 691.8 L1439.8 680.8 L1447.8 680.8 L1451.3 691.8 Z" fill="#8ec549"/>
<path d="M1585.4 679.2 C1585.4 676.6 1588.0 674.7 1588.3 672.0 C1588.6 669.3 1588.8 670.9 1586.6 669.1 C1584.4 667.3 1581.0 666.9 1579.9 665.3 C1578.8 663.7 1580.4 664.4 1582.4 663.2 C1584.4 662.0 1584.1 661.6 1587.5 660.7 C1590.9 659.8 1590.8 660.2 1595.0 659.9 C1599.2 659.6 1599.3 659.4 1603.4 659.4 C1607.5 659.4 1609.5 658.9 1610.2 659.9 C1610.9 660.9 1607.3 661.5 1606.0 663.2 C1604.7 664.9 1604.1 665.0 1605.5 666.2 C1606.9 667.4 1610.6 667.1 1611.4 667.8 C1612.2 668.5 1610.6 668.6 1608.5 668.9 C1606.4 669.2 1605.5 668.1 1603.4 669.1 C1601.3 670.1 1601.9 670.3 1600.5 672.5 C1599.1 674.7 1599.5 675.0 1598.0 677.5 C1596.5 680.0 1596.9 680.1 1595.0 681.7 C1593.1 683.3 1592.6 683.4 1590.8 683.4 C1589.0 683.4 1589.7 682.8 1588.3 681.7 C1586.9 680.6 1585.4 681.8 1585.4 679.2 Z" fill="#c9c9c9"/>
<path d="M1576.4 691.8 L1579.9 680.8 L1587.9 680.8 L1591.4 691.8 Z" fill="#8ec549"/>
<path d="M1739.7 672.2 C1739.7 669.6 1742.3 667.7 1742.6 665.0 C1742.9 662.3 1743.1 663.9 1740.9 662.1 C1738.7 660.3 1735.3 659.9 1734.2 658.3 C1733.1 656.7 1734.7 657.4 1736.7 656.2 C1738.7 655.0 1738.4 654.6 1741.8 653.7 C1745.2 652.8 1745.1 653.2 1749.3 652.9 C1753.5 652.6 1753.6 652.4 1757.7 652.4 C1761.8 652.4 1763.8 651.9 1764.5 652.9 C1765.2 653.9 1761.6 654.5 1760.3 656.2 C1759.0 657.9 1758.4 658.0 1759.8 659.2 C1761.2 660.4 1764.9 660.1 1765.7 660.8 C1766.5 661.5 1764.9 661.6 1762.8 661.9 C1760.7 662.2 1759.8 661.1 1757.7 662.1 C1755.6 663.1 1756.2 663.3 1754.8 665.5 C1753.4 667.7 1753.8 668.0 1752.3 670.5 C1750.8 673.0 1751.2 673.1 1749.3 674.7 C1747.4 676.3 1746.9 676.4 1745.1 676.4 C1743.3 676.4 1744.0 675.8 1742.6 674.7 C1741.2 673.6 1739.7 674.8 1739.7 672.2 Z" fill="#c9c9c9"/>
<path d="M1731.5 686.3 L1734.5 674.2 L1741.9 674.2 L1745.0 686.3 Z" fill="#de76b5"/>
<path d="M1782.1 667.7 C1782.1 665.1 1784.7 663.2 1785.0 660.5 C1785.3 657.8 1785.5 659.4 1783.3 657.6 C1781.1 655.8 1777.7 655.4 1776.6 653.8 C1775.5 652.2 1777.1 652.9 1779.1 651.7 C1781.1 650.5 1780.8 650.1 1784.2 649.2 C1787.6 648.3 1787.5 648.7 1791.7 648.4 C1795.9 648.1 1796.0 647.9 1800.1 647.9 C1804.2 647.9 1806.2 647.4 1806.9 648.4 C1807.6 649.4 1804.0 650.0 1802.7 651.7 C1801.4 653.4 1800.8 653.5 1802.2 654.7 C1803.6 655.9 1807.3 655.6 1808.1 656.3 C1808.9 657.0 1807.3 657.1 1805.2 657.4 C1803.1 657.7 1802.2 656.6 1800.1 657.6 C1798.0 658.6 1798.6 658.8 1797.2 661.0 C1795.8 663.2 1796.2 663.5 1794.7 666.0 C1793.2 668.5 1793.6 668.6 1791.7 670.2 C1789.8 671.8 1789.3 671.9 1787.5 671.9 C1785.7 671.9 1786.4 671.3 1785.0 670.2 C1783.6 669.1 1782.1 670.3 1782.1 667.7 Z" fill="#c9c9c9"/>
<path d="M1773.8 682.6 L1776.9 669.7 L1784.3 669.7 L1787.3 682.6 Z" fill="#de76b5"/>
<path d="M1918.8 667.7 C1918.8 665.1 1921.4 663.2 1921.7 660.5 C1922.0 657.8 1922.2 659.4 1920.0 657.6 C1917.8 655.8 1914.4 655.4 1913.3 653.8 C1912.2 652.2 1913.8 652.9 1915.8 651.7 C1917.8 650.5 1917.5 650.1 1920.9 649.2 C1924.3 648.3 1924.2 648.7 1928.4 648.4 C1932.6 648.1 1932.7 647.9 1936.8 647.9 C1940.9 647.9 1942.9 647.4 1943.6 648.4 C1944.3 649.4 1940.7 650.0 1939.4 651.7 C1938.1 653.4 1937.5 653.5 1938.9 654.7 C1940.3 655.9 1944.0 655.6 1944.8 656.3 C1945.6 657.0 1944.0 657.1 1941.9 657.4 C1939.8 657.7 1938.9 656.6 1936.8 657.6 C1934.7 658.6 1935.3 658.8 1933.9 661.0 C1932.5 663.2 1932.9 663.5 1931.4 666.0 C1929.9 668.5 1930.3 668.6 1928.4 670.2 C1926.5 671.8 1926.0 671.9 1924.2 671.9 C1922.4 671.9 1923.1 671.3 1921.7 670.2 C1920.3 669.1 1918.8 670.3 1918.8 667.7 Z" fill="#c9c9c9"/>
<path d="M1910.5 682.6 L1913.6 669.7 L1921.0 669.7 L1924.0 682.6 Z" fill="#1268b8"/>
<path d="M1277.4 690.4 L1277.4 1142.5 L2003.8 1142.5 L2003.8 682.4" fill="none" stroke="#1c1210" stroke-width="1.6"/>
<text x="1294.4" y="663.8" font-size="24.6" fill="#000">B</text>
<text x="1969.2" y="663" font-size="24.6" fill="#000" textLength="22" lengthAdjust="spacing">B’</text>
<text x="1456.5" y="724.4" font-size="26.3" fill="#fff" textLength="112.3" lengthAdjust="spacing">Rift crust</text>
<text x="1315.9" y="766" font-size="26.3" fill="#000" textLength="93.7" lengthAdjust="spacing">Sub-rift</text>
<text x="1291.5" y="795.3" font-size="26.3" fill="#000" textLength="141.6" lengthAdjust="spacing">lithosphere</text>
<text x="1796.3" y="711.3" font-size="26.3" fill="#fff" textLength="107.4" lengthAdjust="spacing">Cratonic</text>
<text x="1818.7" y="740.6" font-size="26.3" fill="#fff" textLength="61.9" lengthAdjust="spacing">crust</text>
<text x="1855.6" y="832.8" font-size="26.3" fill="#000" textLength="107.7" lengthAdjust="spacing">Cratonic</text>
<text x="1837.9" y="862.4" font-size="26.3" fill="#000" textLength="142.4" lengthAdjust="spacing">lithosphere</text>
<text x="1435" y="856.6" font-size="26.3" fill="#000" textLength="164.7" lengthAdjust="spacing">Basalts in rift</text>
<text x="1628" y="974.4" font-size="26.3" fill="#000" textLength="120.9" lengthAdjust="spacing">Melilitites</text>
<text x="1584.2" y="1002.5" font-size="26.3" fill="#000" textLength="208.6" lengthAdjust="spacing">and nephelinites</text>
<text x="1662.8" y="1087.2" font-size="26.3" fill="#000" textLength="163.2" lengthAdjust="spacing">Carbonatites</text>
<text x="1588.7" y="1115.9" font-size="26.3" fill="#000" textLength="311.4" lengthAdjust="spacing">Ultramafic alkaline melts</text>
<text x="1324.7" y="1066" font-size="26.3" fill="#000" textLength="237" lengthAdjust="spacing">Convecting mantle</text>
</g>
</svg>
</body></html>
